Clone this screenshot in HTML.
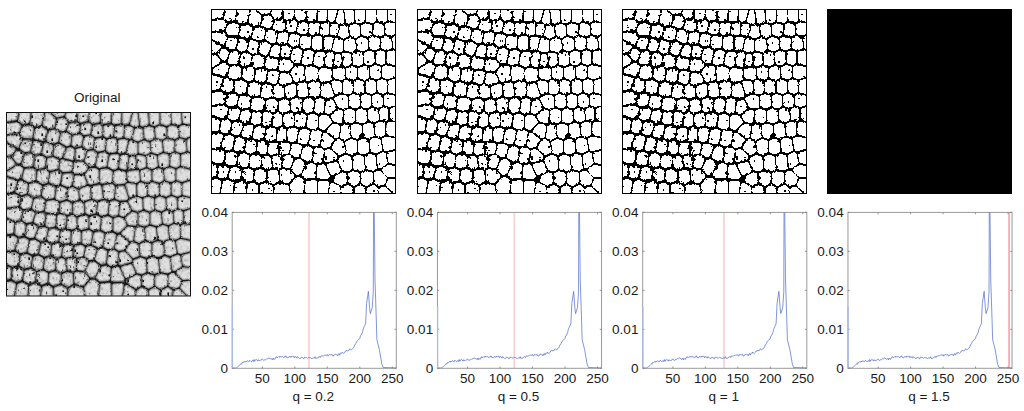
<!DOCTYPE html>
<html><head><meta charset="utf-8"><style>
html,body{margin:0;padding:0;background:#fff;width:1024px;height:411px;overflow:hidden}
svg{display:block}
text{font-family:"Liberation Sans",sans-serif;font-size:13.5px;fill:#1a1a1a}
</style></head><body>
<svg width="1024" height="411" viewBox="0 0 1024 411">
<defs>
<clipPath id="cax"><rect x="232.2" y="212.4" width="164.10" height="155.90"/></clipPath>
<filter id="rough" x="-5%" y="-5%" width="110%" height="110%"><feTurbulence type="fractalNoise" baseFrequency="0.45" numOctaves="2" seed="4" result="n"/><feDisplacementMap in="SourceGraphic" in2="n" scale="3" xChannelSelector="R" yChannelSelector="G"/></filter>
<filter id="soft" x="-5%" y="-5%" width="110%" height="110%"><feGaussianBlur stdDeviation="0.22"/></filter>
<filter id="osoft" x="-3%" y="-3%" width="106%" height="106%" color-interpolation-filters="sRGB"><feTurbulence type="fractalNoise" baseFrequency="0.35" numOctaves="2" seed="4" result="n"/><feDisplacementMap in="SourceGraphic" in2="n" scale="2.2" xChannelSelector="R" yChannelSelector="G" result="d"/><feTurbulence type="fractalNoise" baseFrequency="0.3" numOctaves="3" seed="9" result="t2"/><feColorMatrix in="t2" type="matrix" values="1.0 0 0 0 0.5  1.0 0 0 0 0.5  1.0 0 0 0 0.5  0 0 0 0 1" result="sh"/><feComposite in="d" in2="sh" operator="arithmetic" k1="1" k2="0" k3="0" k4="0" result="m"/><feGaussianBlur in="m" stdDeviation="0.6" result="b"/><feComponentTransfer in="b"><feFuncR type="table" tableValues="0.099 0.166 0.168 0.171 0.174 0.179 0.185 0.191 0.197 0.202 0.207 0.212 0.216 0.220 0.224 0.228 0.231 0.235 0.239 0.243 0.247 0.252 0.257 0.262 0.267 0.271 0.276 0.281 0.286 0.290 0.293 0.296 0.299 0.303 0.306 0.310 0.314 0.317 0.321 0.325 0.328 0.332 0.336 0.339 0.344 0.349 0.353 0.356 0.360 0.364 0.368 0.372 0.377 0.381 0.385 0.389 0.392 0.396 0.399 0.403 0.406 0.409 0.412 0.416 0.420 0.424 0.428 0.432 0.435 0.439 0.443 0.446 0.450 0.454 0.458 0.462 0.466 0.471 0.476 0.481 0.486 0.490 0.494 0.498 0.504 0.510 0.516 0.521 0.526 0.531 0.537 0.542 0.548 0.553 0.557 0.562 0.567 0.571 0.576 0.580 0.585 0.591 0.596 0.602 0.606 0.612 0.618 0.623 0.628 0.632 0.637 0.641 0.664 0.683 0.684 0.686 0.687 0.689 0.692 0.694 0.696 0.698 0.701 0.703 0.705 0.706 0.708 0.709 0.710 0.712 0.713 0.715 0.716 0.718 0.719 0.721 0.722 0.724 0.725 0.727 0.729 0.730 0.732 0.733 0.735 0.736 0.737 0.738 0.741 0.744 0.745 0.746 0.747 0.748 0.750 0.752 0.753 0.754 0.755 0.756 0.757 0.758 0.759 0.760 0.761 0.762 0.763 0.764 0.765 0.766 0.767 0.768 0.769 0.770 0.771 0.772 0.774 0.775 0.776 0.777 0.778 0.779 0.780 0.780 0.781 0.782 0.783 0.784 0.785 0.786 0.787 0.788 0.789 0.790 0.791 0.792 0.793 0.794 0.795 0.796 0.797 0.799 0.799 0.801 0.802 0.804 0.805 0.807 0.808 0.809 0.810 0.811 0.813 0.814 0.815 0.816 0.817 0.819 0.820 0.822 0.823 0.825 0.826 0.827 0.828 0.829 0.830 0.831 0.832 0.833 0.835 0.836 0.836 0.837 0.838 0.839 0.840 0.841 0.842 0.843 0.844 0.846 0.847 0.848 0.850 0.851 0.852 0.854 0.855 0.857 0.859 0.860 0.861 0.862 0.863 0.878"/><feFuncG type="table" tableValues="0.099 0.166 0.168 0.171 0.174 0.179 0.185 0.191 0.197 0.202 0.207 0.212 0.216 0.220 0.224 0.228 0.231 0.235 0.239 0.243 0.247 0.252 0.257 0.262 0.267 0.271 0.276 0.281 0.286 0.290 0.293 0.296 0.299 0.303 0.306 0.310 0.314 0.317 0.321 0.325 0.328 0.332 0.336 0.339 0.344 0.349 0.353 0.356 0.360 0.364 0.368 0.372 0.377 0.381 0.385 0.389 0.392 0.396 0.399 0.403 0.406 0.409 0.412 0.416 0.420 0.424 0.428 0.432 0.435 0.439 0.443 0.446 0.450 0.454 0.458 0.462 0.466 0.471 0.476 0.481 0.486 0.490 0.494 0.498 0.504 0.510 0.516 0.521 0.526 0.531 0.537 0.542 0.548 0.553 0.557 0.562 0.567 0.571 0.576 0.580 0.585 0.591 0.596 0.602 0.606 0.612 0.618 0.623 0.628 0.632 0.637 0.641 0.664 0.683 0.684 0.686 0.687 0.689 0.692 0.694 0.696 0.698 0.701 0.703 0.705 0.706 0.708 0.709 0.710 0.712 0.713 0.715 0.716 0.718 0.719 0.721 0.722 0.724 0.725 0.727 0.729 0.730 0.732 0.733 0.735 0.736 0.737 0.738 0.741 0.744 0.745 0.746 0.747 0.748 0.750 0.752 0.753 0.754 0.755 0.756 0.757 0.758 0.759 0.760 0.761 0.762 0.763 0.764 0.765 0.766 0.767 0.768 0.769 0.770 0.771 0.772 0.774 0.775 0.776 0.777 0.778 0.779 0.780 0.780 0.781 0.782 0.783 0.784 0.785 0.786 0.787 0.788 0.789 0.790 0.791 0.792 0.793 0.794 0.795 0.796 0.797 0.799 0.799 0.801 0.802 0.804 0.805 0.807 0.808 0.809 0.810 0.811 0.813 0.814 0.815 0.816 0.817 0.819 0.820 0.822 0.823 0.825 0.826 0.827 0.828 0.829 0.830 0.831 0.832 0.833 0.835 0.836 0.836 0.837 0.838 0.839 0.840 0.841 0.842 0.843 0.844 0.846 0.847 0.848 0.850 0.851 0.852 0.854 0.855 0.857 0.859 0.860 0.861 0.862 0.863 0.878"/><feFuncB type="table" tableValues="0.099 0.166 0.168 0.171 0.174 0.179 0.185 0.191 0.197 0.202 0.207 0.212 0.216 0.220 0.224 0.228 0.231 0.235 0.239 0.243 0.247 0.252 0.257 0.262 0.267 0.271 0.276 0.281 0.286 0.290 0.293 0.296 0.299 0.303 0.306 0.310 0.314 0.317 0.321 0.325 0.328 0.332 0.336 0.339 0.344 0.349 0.353 0.356 0.360 0.364 0.368 0.372 0.377 0.381 0.385 0.389 0.392 0.396 0.399 0.403 0.406 0.409 0.412 0.416 0.420 0.424 0.428 0.432 0.435 0.439 0.443 0.446 0.450 0.454 0.458 0.462 0.466 0.471 0.476 0.481 0.486 0.490 0.494 0.498 0.504 0.510 0.516 0.521 0.526 0.531 0.537 0.542 0.548 0.553 0.557 0.562 0.567 0.571 0.576 0.580 0.585 0.591 0.596 0.602 0.606 0.612 0.618 0.623 0.628 0.632 0.637 0.641 0.664 0.683 0.684 0.686 0.687 0.689 0.692 0.694 0.696 0.698 0.701 0.703 0.705 0.706 0.708 0.709 0.710 0.712 0.713 0.715 0.716 0.718 0.719 0.721 0.722 0.724 0.725 0.727 0.729 0.730 0.732 0.733 0.735 0.736 0.737 0.738 0.741 0.744 0.745 0.746 0.747 0.748 0.750 0.752 0.753 0.754 0.755 0.756 0.757 0.758 0.759 0.760 0.761 0.762 0.763 0.764 0.765 0.766 0.767 0.768 0.769 0.770 0.771 0.772 0.774 0.775 0.776 0.777 0.778 0.779 0.780 0.780 0.781 0.782 0.783 0.784 0.785 0.786 0.787 0.788 0.789 0.790 0.791 0.792 0.793 0.794 0.795 0.796 0.797 0.799 0.799 0.801 0.802 0.804 0.805 0.807 0.808 0.809 0.810 0.811 0.813 0.814 0.815 0.816 0.817 0.819 0.820 0.822 0.823 0.825 0.826 0.827 0.828 0.829 0.830 0.831 0.832 0.833 0.835 0.836 0.836 0.837 0.838 0.839 0.840 0.841 0.842 0.843 0.844 0.846 0.847 0.848 0.850 0.851 0.852 0.854 0.855 0.857 0.859 0.860 0.861 0.862 0.863 0.878"/></feComponentTransfer></filter>
<g id="bincells"><path d="M8.6,5.3 9.6,-2 -2.7,-2 -2.7,7ZM15,6.9 17.2,8.9 20.6,8.4 22.1,-1.8 16.2,-1.8ZM29,10.9 33.1,10 35.7,-1.7 28.6,-1.7 26.9,9.7ZM42.4,13.6 45.9,13 47,7.5 41.3,3.1 39.5,11.7ZM64.3,6.6 68,6 68.4,-2.1 64.7,-2.1 61.9,3.7ZM74.3,7.1 74.7,7.4 79.5,6.3 79.9,-2.1 74.8,-2.1ZM85.8,7.3 87.2,8.3 91.2,7.6 91.7,-2.1 86.2,-2.1ZM97.4,8.6 102.2,8 102.7,-2.1 98,-2.1ZM108.4,9.1 109.1,9.5 112.6,8.8 112.6,-2 109,-2ZM118.8,9.2 119,9.3 120.6,9.1 124,-2.2 118.8,-2.2ZM128.8,12 130.2,11.7 129.1,2.9 126.7,10.9ZM136.4,11.2 136.7,11.3 139.9,10.2 139.3,-2.1 134.7,-2.1ZM146,10.1 148.1,10.8 150.7,9.8 150.7,-2.1 145.4,-2.1ZM156.8,9.6 160.4,10.6 162.1,9.8 161.5,-2.1 156.8,-2.1ZM168.1,9.3 171.8,10.2 172.9,9.6 172.2,-2.2 167.6,-2.2ZM178.9,8.7 187.4,9.8 187.4,-2.2 178.3,-2.2ZM10.5,18.1 12.2,14.5 10.4,12.9 -2.7,14.8 -2.7,19.4ZM54.9,16.1 57.4,15.5 59.2,11.3 56.9,8.5 53.2,9.2 52.2,14.5ZM63.7,17.3 66.4,19 70.5,18.1 70.7,13.5 70.2,13.2 65.1,13.9ZM78.3,20 81.8,19.5 82.9,14.2 81.8,13.4 77,14.5 76.8,19.1ZM88,20.9 89.7,22 93.6,21.4 93.6,14.9 93.5,14.9 89.1,15.6ZM99.8,22.2 100.7,22.7 104.5,21.9 105.1,15.7 104.4,15.2 99.8,15.9ZM111.7,23.3 114.7,22.7 115.1,15.9 111.3,16.6 110.7,22.8ZM120.9,23.2 122.9,24 124.8,17.6 122.4,16.6 121.3,16.7ZM176,22.5 179.5,23.4 187.4,19.4 187.4,17 176.6,15.6 175.4,16.3ZM0.4,26.5 10.6,31.8 12.9,27.2 11.3,25.4ZM18.3,22.9 23.9,23 24.8,17.5 22.7,16.2 18.4,16.8 16.5,20.8ZM30.2,24.4 36.6,25.8 38,19.5 35.3,17.8 31.2,18.7ZM48,20.4 44.3,21 43,26.7 47.6,28.2 49.6,27.5 50.8,22ZM56,28.5 60.7,31.1 61.8,30.8 62.4,24.8 59.2,22.8 57.1,23.3ZM68.1,31.6 69.2,32.1 72.9,31.4 74,25.7 72.9,25 68.7,25.8ZM131.8,26.2 134.5,25.1 133.8,18.4 133.4,18.3 131,18.8 129.1,25.1ZM143.5,25.5 146,24.2 145.4,17.7 143.1,17 140,18.1 140.7,24.7ZM152.1,23.5 155.8,24.4 157.6,23.4 157.6,17.4 153.9,16.3 151.5,17.3ZM163.7,22.9 168.3,24.2 170,23.2 169.4,17.1 165.6,16.1 163.7,17ZM3.4,40.6 6.2,37.5 -2.7,32.8 -2.7,40.6ZM16.5,35.1 19.3,37 21.6,36.7 23,30.6 18.7,30.5ZM29.6,39.2 32.4,38.7 33.6,32.9 29.4,31.9 27.9,38.2ZM38.7,40 41.2,41.3 43.6,40.7 44.3,34.9 40.1,33.5ZM50,41.5 53.6,43 56.2,36.8 52.2,34.6 50.7,35.1ZM79.1,32.7 81.6,34.3 84.2,33.9 85.5,27.7 83.8,26.6 80.2,27.1ZM92.3,36.4 96.2,35.8 96.9,28.9 96.1,28.4 91.6,29.1 90.4,35.3ZM102.4,37 103.9,37.8 108.1,37.4 108.1,29.5 106.9,28.9 103.1,29.7ZM114.3,38.2 117.1,38 119.1,30.2 117.3,29.6 114.3,30.1ZM123.2,39.4 123.7,39.6 128.7,39.6 128.7,32.6 125.2,31.2ZM134.9,32.5 134.9,38.9 139.5,39.7 141.5,38.7 140.9,32.2 138,31.3ZM147,31.6 147.6,38.1 151,39.1 154,37.8 153.4,31.1 149.7,30.2ZM159.4,30.3 160.1,37.3 162.8,38.1 165.7,37.1 165.7,30.6 161.1,29.4ZM171.7,30.1 171.7,37.1 174.3,38 177.7,37 177,30 173.6,29.1ZM183,29.3 183.8,36.8 187.4,38.1 187.4,27.1ZM12.3,40.9 9.1,44.5 12.4,48.4 14.6,42.5ZM18.4,51.3 19,51.8 24.2,51.5 25.4,45.3 23.6,44.3 20.8,44.6ZM65.6,45 65.6,38.5 64.4,38 62.5,38.4 60.3,43.7ZM72,45 75.5,45.2 77.2,39.8 74.9,38.5 72,39ZM81.3,48.1 84.2,51.1 86.4,50.9 88.1,42.3 86.2,41.3 83.3,41.7ZM93.5,52.8 98,52 99.7,43.8 98.5,43.1 94.3,43.7 92.5,52.3ZM107.4,54.5 109.4,53.8 110.4,44.7 105.8,45.2 104.2,53ZM143.5,53 145.8,53.8 149,52.6 148.3,45.7 145.1,44.8 143.2,45.7ZM157.2,53.1 160.3,51.9 159.9,44.6 157.5,43.9 154.4,45.2 155.1,52.4ZM169.5,52.7 171.2,51.9 171.2,44.3 168.7,43.4 166,44.4 166.4,51.7ZM187.4,54.2 187.4,45.7 180.9,43.4 177.2,44.5 177.2,51.6ZM-2.7,56.4 6,51.4 3.4,48.3 -2.7,48.3ZM3,61.2 11.9,64.1 12.6,63.9 14.2,57.4 13.2,56.5 11.5,56.3ZM30.5,53.2 31.4,53.8 36.1,52.9 37.1,47.5 34.5,46.1 31.8,46.6ZM43.5,48.5 42.4,54.3 44.3,55.5 49.7,54.3 50.2,49.6 46.3,47.9ZM56,55.8 57.3,56.8 63,56.6 63.8,52 56.6,50.2ZM69.3,58.6 76.4,58.6 78.9,55.4 76.3,52.7 70.2,52.3 69.2,58.5ZM115.6,53.9 118.3,54.6 119.6,45.6 119,45.4 116.5,45.6ZM124.6,54.5 127.6,54.1 126.7,47 125.7,47ZM132.8,45.8 133.8,54.2 137.4,53 137,46.5ZM19,65.1 22.7,67 26.7,65.9 27.2,59.9 25.9,59.1 20.4,59.5ZM37,68.9 39.2,68.2 40.1,61.6 38.1,60.3 33.6,61.1 33.1,66.8ZM45.6,68.5 50.1,70 51.3,69.6 52.6,62.3 51.7,61.6 46.5,62.7ZM57.7,70.3 61.4,71.6 63.2,71.1 64.6,64 58.8,64.2ZM69.5,71.7 72.3,72.8 77.6,70.6 75.8,65.9 70.7,65.9ZM81.6,62.9 84.1,69.3 84.6,69.4 90,68.2 89.9,59.4 88.3,58.6 84.6,58.9ZM96.3,68.5 103.3,67.4 103.9,60.9 100.3,59.2 96.2,60ZM109.5,68.8 110.4,69.4 117.1,68.7 117.9,68 117.4,62 112.4,60.7 110.1,61.4ZM123.6,61.7 124,66.7 130,67.7 131,67.1 130.4,60.8ZM136.6,60.7 137.1,66.4 141.2,67.4 142.7,66.7 142.7,60.2 140.5,59.4ZM148.8,66.4 152.9,67.5 155,66.6 154.4,59.7 152.3,58.9 148.8,60.2ZM161,66 164.7,67 166.7,66.2 166.7,59.1 163.6,58.2 160.5,59.4ZM172.7,65.9 175.7,66.8 187.4,63.4 187.4,61.4 174.5,58.1 172.7,58.9ZM-2.7,67.2 -2.7,78.2 5.7,76.7 7.8,70.7ZM12.1,78.3 15.2,80 18.2,79.1 18.9,73.4 15,71.4 14.5,71.6ZM24.7,79.9 28,81.7 32.2,80.7 33.2,75.3 29.3,73.2 25.3,74.3ZM40.8,84 45.6,83.4 46.6,76.7 42.2,75.3 39.6,76.2 38.5,82.2ZM51.9,84.8 54,86 57.5,84.8 58,78.3 54,76.9 53,77.2ZM100.3,83.9 103.1,84.6 105.2,84.1 106.1,75.2 105.4,74.7 98.9,75.6ZM111.5,84.6 114.3,85.7 119.2,85.2 116.3,76.3 112.3,76.7ZM122,73.6 124.8,82 127.5,81.1 127.5,74.4 122.1,73.6ZM133.6,81.1 136.3,81.9 138.4,81 138.4,74.1 134.7,73.1 133.6,73.7ZM144.6,80.7 148.2,81.7 150.1,80.9 150.1,74.1 146,72.9 144.6,73.6ZM156.2,80.7 159.5,81.6 161.9,80.7 161.9,73.5 158.5,72.6 156.2,73.7ZM168,73.2 168,80.5 171.3,81.5 172.7,81 172.7,73.3 169.9,72.4ZM178.7,73.2 178.7,80.6 187.4,82.5 187.4,70.7ZM10.3,91.2 11.3,86.4 7.7,84.5 -2.7,86.3 -2.7,92.8ZM66.7,86.2 69.9,85.2 69.4,79.5 65.9,78.1 64.4,78.6 63.8,85.1ZM76.3,85.2 77.9,85.9 81.8,84.4 81.3,76.8 75.7,79.2ZM88.2,84.1 91.3,85.2 94,84.3 92.5,75.5 87.6,76.6ZM16.7,92.9 17.9,93.8 22.5,93.3 23.8,87.8 20.8,86.3 17.8,87.2ZM30.5,96.3 35.3,95.9 36.3,89.8 34.2,88.2 30.2,89.1 28.7,95ZM41.6,97.5 49.8,98 50.2,92.4 47.7,90.8 42.6,91.5ZM56.2,97.9 61.1,99.5 62.9,99.1 63.3,92.8 60.5,91.7 56.6,93ZM71,100.4 75.4,99 74.8,92.7 73.1,92 69.6,93.1 69.3,99.6ZM81.8,99.1 83.2,99.7 87.3,98.8 88,91.9 85.2,91 81.2,92.4ZM93.5,99.5 95.6,100.6 99,99.8 99.8,91.6 97.6,91 94.3,92.1ZM105.2,100.5 107,101.3 109.4,100.6 110.5,92.1 108,91.2 106.1,91.7ZM115.7,101 117.4,101.6 121.9,97.6 119.3,92.6 116.7,92.9ZM124.9,89.5 127.9,95.3 131.6,96.5 133.9,95.5 133.5,88.6 130.6,87.7ZM140,95.2 143.6,96.3 145.4,95.5 145.4,88.3 141.8,87.3 139.7,88.2ZM151.6,95.2 154.9,96.1 157.1,95 156.7,88.2 153.4,87.2 151.6,88ZM163.1,94.5 166.3,95.3 168.4,94.3 168.4,88 165.1,86.9 162.8,87.9ZM174.5,94 177.2,94.8 187.4,91.7 187.4,89.6 176,87.1 174.5,87.8ZM9.3,105.7 12.3,105 13.4,99.6 12.2,98.6 -2.7,100.5 -2.7,100.6ZM20.9,107.8 24.1,107.1 25.7,101.9 24.2,100.7 19.7,101.3 18.8,106.4ZM30.5,108.7 33.3,110.6 35.7,110.3 36.4,103.5 32,103.9ZM43.1,112.2 46.6,111.8 47.3,105.4 42.7,105.1 42,111.6ZM53,113 54.5,113.9 56.6,113.4 57.5,106.2 53.8,105ZM123.2,110 128.7,110.6 128.7,103.2 126.4,102.5 121.8,106.7ZM134.9,110.4 138,111.2 140.7,110.1 140.7,102.9 137.3,101.9 134.9,102.9ZM146.8,102.6 146.8,109.9 150,110.8 153,109.5 152.3,102.8 148.7,101.8ZM159.1,109 162,109.9 164.6,108.7 163.9,101.9 160.6,101.1 158.4,102.2ZM170.6,108.1 173.9,108.9 174.2,108.8 174.2,101.1 171.7,100.4 169.9,101.2ZM180.2,101.1 180.2,108.1 187.4,109 187.4,98.9ZM4.6,118.7 5.4,112.2 -2.7,108.8 -2.7,119.3ZM11.1,120.1 12.9,121 15.7,120.6 16.7,113.9 14.5,112.6 11.9,113.1ZM22.1,121.8 24,122.8 25.9,122.7 28.6,116.2 26.1,114.5 23.1,115.2ZM65.2,114.4 67.6,113.8 67.6,107 65.7,106.2 63.9,106.6 62.9,113.8ZM75.4,114.6 79.6,113.7 79.6,106.3 78.5,105.8 74,107.2 74,114ZM85.9,114.3 87.8,115.2 91.1,114.7 91.9,107 89.8,105.9 85.9,106.8ZM97.4,115.8 99.5,116.8 103.6,116.2 103.6,108 101.5,107 98.1,107.8ZM109.8,116.9 111.4,117.6 112.2,117.5 117.4,112.5 115.8,108.8 112.2,107.6 109.8,108.3ZM166.1,124 168.7,124.6 171.2,123.5 171.2,115.5 168.1,114.8 165.4,116ZM177.2,123.1 187.4,125.2 187.4,116.2 177.7,115 177.2,115.2ZM32.2,124.4 35.1,125.8 37.2,125.4 38.8,118.3 37.9,117.8 34.8,118.1ZM43.6,126.5 45.9,127.5 49.8,126.6 50.6,120.2 48.9,119.3 45,119.7ZM56.1,127.7 57.4,128.5 61.5,128.2 61.9,121.3 59.4,120.6 57,121.1ZM67.8,129.1 71.9,128.4 71.9,121.2 70.6,120.7 68.3,121.3ZM78.2,129 79.9,129.8 82.1,129.3 83.7,121.5 82.3,120.8 78.2,121.6ZM88.4,130.5 91.7,132.1 93.8,131.7 95.5,123.1 93.5,122.1 89.9,122.7ZM100,132.8 102.1,133.9 105.3,133.3 107.3,124 106.2,123.5 101.7,124.2ZM118.1,121 124.4,126.1 124.6,126 125.7,117.5 122.2,117.1ZM132,117.2 130.8,126.8 132.7,127.4 136.1,126 135.3,118.1ZM142.2,125.5 145.6,126.4 148.1,125.5 147.4,117.6 143.9,116.6 141.5,117.6ZM154.2,125.1 157.1,125.8 160.1,124.6 159.3,116.6 156.4,115.7 153.5,117ZM6.2,134.9 8.5,127.4 6.9,126.6 -2.7,127.4 -2.7,135.8ZM12.5,136.6 14.6,137.8 18.1,137.2 19.7,129.3 17.9,128.4 14.9,128.8ZM24.5,138.4 26.9,139.6 29.6,139 31,132.1 27.6,130.5 26.1,130.7ZM37.4,133.3 36,140.1 38.5,141.3 41.4,140.5 42.1,134 39.6,132.9ZM50.4,142.3 52.4,141.7 53.2,134.5 52.1,133.9 48.5,134.7 47.8,141.1ZM59.7,142.5 63.8,141.5 63.8,135.6 59.5,135.9 58.8,142.1ZM70.2,142 70.8,142.4 74.8,141.6 75.9,136 74.6,135.4 70.2,136.2ZM111.5,134.6 113.3,135.6 116.8,134.9 119.5,130.8 113.3,125.9ZM122.5,137.9 127.6,143 130.5,141.7 129.9,134.2 127.2,133.3 125.4,133.5ZM136,133.8 136.7,141.3 140.1,142.3 142.7,141.3 142.7,133.2 139.6,132.4ZM148.8,132.9 148.8,141 152.1,141.9 155.2,140.6 154.5,132.7 151.5,131.9ZM160.6,132.1 161.3,140.1 163.8,140.9 167.9,139.3 166.4,131.5 163.6,130.8ZM172.4,130.6 173.9,138.6 174.5,138.8 187.4,135.5 187.4,132.3 174.6,129.7ZM6.4,151.2 9.5,150.4 10.4,144.1 7.9,142.7 -2.7,143.7 -2.7,147.5ZM16,151.7 18.5,153.3 22,152.4 23,146.1 20.3,144.8 16.8,145.4ZM83.8,145 85.5,144.7 87.5,138.1 84.4,136.6 82.2,137 81,143ZM91.6,146.6 95.8,149.3 97.4,149 98.2,140.3 96,139.2 93.7,139.6ZM103.6,150 105.6,150.8 108.6,150.2 109.5,141.8 107.5,140.8 104.4,141.2ZM114.9,150 123.1,147.8 117.6,142.2 115.7,142.6ZM177.9,145.1 178.9,151.2 187.4,152.2 187.4,142.7ZM31.2,154.9 34.2,154.2 34.8,147.8 32,146.5 29.4,147.1 28.5,153.4ZM42.9,156.1 46.1,155.2 46.7,148.8 44.1,147.7 41.2,148.5 40.6,155ZM55.3,157.1 57.4,156.3 56.6,149.3 55.3,148.8 53.1,149.4 52.5,155.8ZM63.8,155.7 66.7,156.2 67,156.1 67,148.7 66.5,148.4 63,149.3ZM73.4,149.3 73.4,155.3 76.5,155.6 79.1,150.2 76.8,148.6ZM85.2,152.5 82.1,158.9 85.4,162.3 86.8,162.3 91,154.7 87.2,152.2ZM120.7,162.9 126.3,160 123.8,154.8 117.7,156.5ZM128.9,150.8 132.6,158.3 135.2,159 137.7,158 137.3,149.2 134,148.1 129.2,150.2ZM143.8,157.7 148.3,158.7 150.3,157.9 149.4,148.8 146,147.9 143.4,148.9ZM156.4,157.3 161.3,158.2 162.5,157.6 161.2,147.7 158.6,146.9 155.5,148.3ZM168.4,155.8 173,152.7 171.7,145.5 171.4,145.4 167.2,147.1ZM1.9,164.2 2.6,157.9 -2.7,155.8 -2.7,165.1ZM8.4,165.1 10.9,166.2 13.3,165.5 14.3,159.5 11.9,158 9.1,158.7ZM19.8,166.5 22.9,168.1 26,167.2 27.1,161.2 24.5,159.8 20.8,160.7ZM33.5,162.2 32.4,168 35.6,169.5 38.7,168.5 39.2,162.6 36.9,161.5ZM45.1,169.1 47.4,170.3 51.7,168.9 51.9,163.6 48.8,162.3 45.6,163.2ZM58.1,169.5 61.5,171.4 64.4,169.8 64.1,163.4 61.2,162.9 58.3,163.9ZM70.8,169.1 76.1,170.5 79.9,166.4 76.8,163.2 70.8,162.4 70.5,162.6ZM92.6,165 94.4,166.3 101.1,165.8 101.9,157.4 99.8,156.5 97.1,156.9ZM107.3,166.6 115.4,166.4 111.2,157.5 108.1,158.1ZM177.4,164.9 187.4,164.1 187.4,159.2 177.1,158 173,160.7ZM6.9,173.3 4.5,172.3 -2.7,173.6 -2.7,185.9 4.4,185.9ZM19.2,175.2 15.8,173.4 13.5,174.1 11,186.1 18.3,186.1ZM31.9,176.3 28.6,174.8 25.7,175.7 24.8,186.2 30.9,186.2ZM43.8,177.1 41.4,175.8 38.3,176.8 37.4,186.4 43.8,186.4ZM58.3,178.3 54.4,176.1 50.3,177.4 50.3,186.4 58.3,186.4ZM74.5,177.9 68.2,176.3 64.7,178.3 64.7,186.5 76.3,186.5ZM82.7,186.1 89,186.1 90.1,172.5 87.6,170.7 85.5,170.7 80.6,176ZM102.4,173.6 96.3,174 95.3,186.3 102.4,186.3ZM108.7,186.3 112.9,186.3 114.7,174.1 108.7,174.2ZM120.7,176 119.2,186.6 125.3,186.6 126.7,179.5ZM123.1,169.3 130.1,173.4 132.3,172 132.3,165.9 130.6,165.4ZM138.5,171.7 142.2,173.4 145.5,171.9 145.5,165.5 141.1,164.5 138.5,165.6ZM151.6,172 154.6,173.7 158.6,171.7 158.6,165.1 153.9,164.2 151.6,165.1ZM164.7,172 167.4,173.7 171.1,172.6 172.7,169.1 167.1,163.9 166.4,163.8 164.7,164.5ZM178.3,172 176.9,175.1 187.4,185.8 187.4,171.2ZM139.2,179.9 135.6,178.2 133,179.9 131.6,186.8 139.2,186.8ZM151.4,180 148.4,178.3 145.3,179.8 145.3,186.8 151.4,186.8ZM157.5,186.8 163.1,186.8 163.8,179.5 161.5,178.1 157.5,180ZM172.4,179.6 169.8,180.4 169.2,187 179.7,187ZM45.4,-2.5 51.3,2.1 56,1.2 57.8,-2.5Z" fill="#fff" stroke="#fff" stroke-width="5.2" stroke-linejoin="round"/></g>
<g id="bin3cells"><path d="M8.5,5.2 9.5,-1.9 -2.7,-1.9 -2.7,6.8ZM15,6.9 17.2,8.8 20.5,8.3 22,-1.7 16.3,-1.7ZM29,10.7 33.1,9.9 35.6,-1.6 28.7,-1.6 27,9.6ZM42.4,13.4 45.8,12.9 46.9,7.5 41.4,3.3 39.5,11.7ZM64.3,6.4 68,5.9 68.4,-2 64.7,-2 62,3.6ZM74.4,7 74.8,7.3 79.4,6.2 79.8,-2 74.9,-2ZM85.9,7.2 87.2,8.2 91.1,7.5 91.6,-2 86.3,-2ZM97.5,8.5 102.1,7.9 102.7,-2 98,-2ZM108.5,9 109.1,9.3 112.5,8.7 112.5,-1.9 109.1,-1.9ZM118.9,9.1 119,9.1 120.5,9 123.9,-2.1 118.9,-2.1ZM128.9,11.9 130.1,11.6 129,3.3 126.7,10.9ZM136.4,11.1 136.7,11.2 139.8,10.1 139.2,-1.9 134.8,-1.9ZM146.1,10 148.1,10.7 150.6,9.7 150.6,-2 145.5,-2ZM156.9,9.5 160.4,10.5 162,9.7 161.4,-2 156.9,-2ZM168.2,9.2 171.8,10.1 172.8,9.5 172.1,-2.1 167.6,-2.1ZM179,8.6 187.3,9.7 187.3,-2.1 178.4,-2.1ZM10.5,18.1 12.1,14.5 10.4,13 -2.7,14.9 -2.7,19.3ZM54.9,15.9 57.4,15.4 59.1,11.4 56.9,8.6 53.3,9.3 52.3,14.4ZM63.8,17.3 66.4,18.9 70.4,18 70.7,13.6 70.2,13.3 65.2,14ZM78.3,19.9 81.8,19.4 82.8,14.2 81.8,13.5 77.1,14.6 76.9,19ZM88.1,20.8 89.7,21.9 93.5,21.3 93.5,15 89.1,15.7ZM99.9,22.2 100.8,22.6 104.4,21.9 105,15.7 104.4,15.4 99.9,16ZM111.7,23.2 114.6,22.6 115.1,16 111.4,16.7 110.8,22.7ZM120.9,23.2 122.9,23.9 124.7,17.7 122.4,16.7 121.4,16.8ZM176.1,22.4 179.5,23.2 187.3,19.4 187.3,17.1 176.7,15.7 175.5,16.4ZM0.6,26.5 10.6,31.7 12.8,27.2 11.3,25.5ZM18.3,22.8 23.8,22.9 24.8,17.5 22.7,16.3 18.4,16.9 16.6,20.8ZM30.3,24.3 36.5,25.7 38,19.6 35.2,17.9 31.3,18.7ZM48,20.5 44.4,21.1 43.1,26.6 47.6,28.1 49.6,27.4 50.7,22.1ZM56.1,28.4 60.7,30.9 61.7,30.7 62.3,24.8 59.2,22.9 57.2,23.4ZM68.2,31.5 69.2,32 72.8,31.3 73.9,25.8 72.9,25.1 68.8,25.9ZM131.8,26.1 134.5,25 133.8,18.5 133.4,18.4 131,18.9 129.2,25ZM143.5,25.4 145.9,24.1 145.3,17.8 143.1,17.1 140.1,18.1 140.8,24.6ZM152.1,23.4 155.8,24.3 157.6,23.3 157.6,17.5 154,16.4 151.6,17.4ZM163.8,22.8 168.3,24 169.9,23.2 169.3,17.1 165.6,16.2 163.8,17.1ZM3.4,40.5 6.1,37.5 -2.7,33 -2.7,40.5ZM16.6,35.1 19.3,36.9 21.5,36.6 22.9,30.7 18.8,30.6ZM29.7,39.1 32.3,38.7 33.5,33 29.4,32 28,38.2ZM38.8,39.9 41.2,41.2 43.6,40.7 44.2,35 40.1,33.6ZM50.1,41.4 53.5,42.9 56.1,36.8 52.2,34.7 50.8,35.2ZM79.2,32.7 81.6,34.2 84.2,33.8 85.4,27.7 83.8,26.7 80.3,27.2ZM92.3,36.3 96.2,35.7 96.8,28.9 96.1,28.5 91.7,29.2 90.5,35.2ZM102.5,36.9 103.9,37.7 108,37.3 108,29.6 106.9,29.1 103.2,29.8ZM114.4,38.1 117,37.9 119,30.3 117.3,29.7 114.4,30.2ZM123.3,39.3 123.7,39.5 128.6,39.5 128.6,32.7 125.3,31.3ZM134.9,32.6 134.9,38.8 139.5,39.6 141.4,38.6 140.9,32.3 138,31.4ZM147.1,31.6 147.7,38 151,38.9 153.9,37.7 153.3,31.2 149.7,30.3ZM159.5,30.4 160.2,37.2 162.8,37.9 165.6,37 165.6,30.7 161.1,29.5ZM171.8,30.2 171.8,37 174.3,37.8 177.6,36.9 177,30.1 173.6,29.2ZM183.1,29.3 183.9,36.7 187.3,37.9 187.3,27.3ZM12.3,41 9.2,44.5 12.4,48.2 14.5,42.5ZM18.5,51.2 19.1,51.7 24.1,51.4 25.3,45.4 23.5,44.4 20.9,44.7ZM65.5,44.9 65.5,38.5 64.4,38.1 62.6,38.5 60.3,43.6ZM72,44.9 75.4,45.1 77.1,39.9 74.9,38.6 72,39.1ZM81.4,48 84.2,51 86.3,50.8 88,42.4 86.2,41.4 83.4,41.8ZM93.5,52.6 98,51.9 99.6,43.9 98.4,43.2 94.3,43.8 92.6,52.2ZM107.4,54.4 109.3,53.7 110.3,44.8 105.8,45.3 104.3,52.9ZM143.6,52.9 145.8,53.7 148.9,52.5 148.3,45.8 145.1,44.9 143.2,45.8ZM157.2,53 160.3,51.8 159.9,44.7 157.5,44 154.5,45.3 155.2,52.3ZM169.5,52.5 171.1,51.8 171.1,44.4 168.7,43.5 166.1,44.4 166.5,51.6ZM187.3,54 187.3,45.7 180.9,43.5 177.3,44.6 177.3,51.5ZM-2.7,56.3 5.9,51.4 3.3,48.4 -2.7,48.4ZM3.2,61.2 11.9,64 12.5,63.8 14.1,57.4 13.2,56.6 11.5,56.4ZM30.5,53.1 31.4,53.7 36,52.8 37.1,47.5 34.5,46.2 31.9,46.7ZM43.6,48.6 42.5,54.2 44.3,55.4 49.6,54.2 50.2,49.6 46.3,48ZM56,55.7 57.3,56.7 63,56.5 63.7,52.1 56.7,50.3ZM69.3,58.5 76.3,58.5 78.8,55.4 76.2,52.8 70.3,52.4 69.3,58.4ZM115.7,53.8 118.2,54.4 119.5,45.7 119,45.5 116.6,45.7ZM124.7,54.4 127.5,54 126.6,47.1 125.8,47.1ZM132.9,45.9 133.9,54 137.3,52.9 137,46.6ZM19.1,65 22.7,66.9 26.6,65.9 27.1,60 25.9,59.2 20.5,59.6ZM37.1,68.8 39.1,68.1 40,61.6 38.1,60.4 33.7,61.2 33.2,66.7ZM45.7,68.4 50.1,69.9 51.2,69.5 52.5,62.4 51.7,61.7 46.5,62.8ZM57.8,70.2 61.4,71.5 63.1,71 64.5,64.1 58.8,64.3ZM69.6,71.7 72.3,72.7 77.6,70.5 75.8,66 70.8,66ZM81.6,62.9 84.2,69.2 84.6,69.3 89.9,68.1 89.8,59.5 88.3,58.8 84.7,59ZM96.4,68.3 103.3,67.3 103.8,61 100.3,59.3 96.2,60ZM109.6,68.7 110.4,69.3 117.1,68.6 117.8,68 117.3,62 112.4,60.8 110.2,61.5ZM123.7,61.8 124.1,66.6 129.9,67.6 130.9,67.1 130.4,60.9ZM136.7,60.8 137.2,66.3 141.1,67.3 142.6,66.6 142.6,60.3 140.5,59.5ZM148.9,66.3 152.9,67.4 154.9,66.5 154.3,59.7 152.3,59 148.9,60.3ZM161.1,65.9 164.7,66.9 166.6,66.1 166.6,59.2 163.6,58.3 160.5,59.5ZM172.8,65.9 175.7,66.7 187.3,63.3 187.3,61.4 174.5,58.2 172.8,59ZM-2.7,67.3 -2.7,78.1 5.6,76.6 7.7,70.7ZM12.2,78.3 15.2,79.9 18.1,79 18.8,73.5 15,71.6 14.5,71.7ZM24.7,79.9 28,81.5 32.1,80.6 33.1,75.3 29.3,73.3 25.4,74.4ZM40.8,83.9 45.5,83.3 46.5,76.8 42.2,75.4 39.7,76.3 38.5,82.2ZM52,84.7 54,85.9 57.4,84.7 57.9,78.4 54,77 53.1,77.3ZM100.4,83.8 103.1,84.5 105.2,84 106.1,75.3 105.4,74.8 99,75.7ZM111.5,84.6 114.3,85.6 119.1,85.1 116.2,76.4 112.3,76.9ZM122.1,73.7 124.8,81.9 127.4,81.1 127.4,74.5ZM133.7,81 136.3,81.8 138.3,80.9 138.3,74.2 134.7,73.3 133.7,73.8ZM144.6,80.6 148.2,81.6 150.1,80.8 150.1,74.2 146,73 144.6,73.7ZM156.3,80.6 159.5,81.5 161.8,80.6 161.8,73.6 158.5,72.8 156.3,73.8ZM168,73.3 168,80.4 171.3,81.4 172.6,80.9 172.6,73.3 169.9,72.5ZM178.8,73.3 178.8,80.5 187.3,82.3 187.3,70.8ZM10.3,91.2 11.2,86.4 7.6,84.6 -2.7,86.4 -2.7,92.7ZM66.7,86.1 69.9,85.2 69.3,79.6 65.9,78.2 64.4,78.7 63.9,85.1ZM76.4,85.1 77.9,85.7 81.8,84.3 81.2,77 75.8,79.3ZM88.2,84 91.3,85.1 94,84.2 92.5,75.6 87.6,76.7ZM16.8,92.8 17.9,93.7 22.4,93.2 23.7,87.9 20.8,86.4 17.8,87.3ZM30.5,96.2 35.2,95.8 36.3,89.9 34.1,88.3 30.3,89.2 28.8,95ZM41.7,97.4 49.7,97.9 50.2,92.4 47.6,90.9 42.7,91.6ZM56.3,97.9 61.1,99.4 62.9,99 63.2,92.8 60.5,91.8 56.7,93.1ZM71,100.3 75.3,99 74.8,92.7 73.1,92.1 69.7,93.1 69.4,99.6ZM81.8,99 83.2,99.6 87.2,98.7 87.9,92 85.2,91.1 81.2,92.5ZM93.6,99.5 95.7,100.5 98.9,99.7 99.7,91.7 97.6,91.1 94.3,92.2ZM105.3,100.4 107,101.2 109.4,100.5 110.4,92.2 108,91.3 106.1,91.8ZM115.7,100.9 117.4,101.5 121.8,97.5 119.3,92.7 116.7,93ZM124.9,89.6 127.9,95.2 131.6,96.4 133.8,95.4 133.5,88.6 130.6,87.8ZM140.1,95.1 143.6,96.1 145.4,95.4 145.4,88.4 141.8,87.5 139.8,88.3ZM151.6,95.1 154.9,96 157,95 156.7,88.3 153.4,87.3 151.6,88.1ZM163.2,94.4 166.3,95.2 168.3,94.2 168.3,88 165.1,87 162.9,87.9ZM174.5,93.9 177.2,94.7 187.3,91.6 187.3,89.7 176,87.2 174.5,87.8ZM9.3,105.6 12.3,105 13.3,99.6 12.1,98.7 -2.7,100.5 -2.7,100.6ZM20.9,107.7 24.1,107 25.7,101.9 24.1,100.8 19.8,101.3 18.8,106.4ZM30.5,108.7 33.3,110.5 35.6,110.2 36.3,103.6 32,104ZM43.1,112.1 46.6,111.8 47.2,105.5 42.8,105.2 42.1,111.5ZM53,112.9 54.6,113.8 56.5,113.3 57.4,106.3 53.9,105.1ZM123.3,109.9 128.6,110.5 128.6,103.3 126.5,102.6 121.9,106.7ZM134.9,110.3 138,111.1 140.6,110.1 140.6,103 137.3,102 134.9,103ZM146.9,102.7 146.9,109.8 150,110.7 152.9,109.4 152.3,102.9 148.7,101.9ZM159.1,108.9 162,109.8 164.5,108.7 163.8,102 160.6,101.2 158.5,102.2ZM170.7,108 173.9,108.8 174.1,108.7 174.1,101.2 171.7,100.5 170,101.3ZM180.3,101.2 180.3,108 187.3,108.8 187.3,99ZM4.6,118.6 5.3,112.3 -2.7,109 -2.7,119.2ZM11.2,120 12.9,120.9 15.6,120.5 16.6,114 14.5,112.7 12,113.2ZM22.1,121.8 24,122.7 25.9,122.6 28.5,116.2 26.1,114.6 23.1,115.3ZM65.2,114.3 67.5,113.7 67.5,107.1 65.7,106.3 63.9,106.7 63,113.7ZM75.4,114.4 79.5,113.6 79.5,106.4 78.5,105.9 74,107.3 74,113.9ZM86,114.3 87.8,115.1 91.1,114.6 91.8,107 89.8,106 86,106.9ZM97.4,115.7 99.5,116.7 103.5,116.1 103.5,108 101.5,107.1 98.2,107.9ZM109.9,116.8 111.4,117.5 112.2,117.4 117.3,112.5 115.7,108.9 112.2,107.7 109.9,108.4ZM166.2,123.9 168.7,124.5 171.1,123.5 171.1,115.6 168.1,114.9 165.5,116.1ZM177.3,123 187.3,125.1 187.3,116.3 177.7,115.2 177.3,115.3ZM32.3,124.4 35.1,125.7 37.2,125.3 38.7,118.4 37.8,117.9 34.9,118.2ZM43.7,126.4 45.9,127.4 49.7,126.6 50.5,120.3 48.9,119.4 45.1,119.8ZM56.2,127.6 57.5,128.4 61.4,128.1 61.9,121.3 59.4,120.7 57,121.2ZM67.9,129 71.8,128.3 71.8,121.3 70.6,120.8 68.4,121.4ZM78.3,128.9 79.9,129.6 82.1,129.2 83.7,121.6 82.3,120.9 78.3,121.7ZM88.4,130.4 91.7,132 93.8,131.6 95.4,123.1 93.5,122.2 90,122.8ZM100.1,132.8 102.1,133.7 105.3,133.2 107.2,124.1 106.2,123.6 101.7,124.3ZM118.2,121 124.4,125.9 124.6,125.9 125.6,117.6 122.2,117.2ZM132.1,117.4 130.9,126.7 132.7,127.3 136,125.9 135.3,118.2ZM142.3,125.4 145.6,126.3 148,125.4 147.3,117.6 144,116.7 141.6,117.7ZM154.3,125 157.1,125.7 160,124.5 159.3,116.7 156.4,115.8 153.5,117.1ZM6.1,134.8 8.4,127.5 6.9,126.7 -2.7,127.5 -2.7,135.6ZM12.6,136.6 14.6,137.7 18,137.1 19.6,129.3 17.9,128.5 15,128.9ZM24.5,138.3 26.9,139.5 29.5,138.9 30.9,132.2 27.6,130.6 26.1,130.8ZM37.4,133.4 36.1,140 38.5,141.2 41.4,140.4 42,134.1 39.5,133ZM50.4,142.2 52.3,141.6 53.1,134.6 52.1,134 48.5,134.8 47.9,141.1ZM59.8,142.4 63.7,141.4 63.7,135.6 59.5,135.9 58.9,142.1ZM70.2,142 70.8,142.3 74.7,141.5 75.8,136.1 74.6,135.5 70.2,136.3ZM111.6,134.6 113.3,135.4 116.7,134.9 119.4,130.8 113.4,126.1ZM122.6,137.9 127.6,142.8 130.5,141.6 129.8,134.2 127.2,133.4 125.5,133.6ZM136.1,133.9 136.8,141.2 140.1,142.2 142.6,141.2 142.6,133.3 139.6,132.5ZM148.9,133 148.9,140.9 152.1,141.8 155.1,140.5 154.4,132.8 151.6,132ZM160.7,132.2 161.4,140 163.8,140.8 167.8,139.2 166.3,131.6 163.6,131ZM172.5,130.7 174,138.5 174.5,138.7 187.3,135.4 187.3,132.4 174.6,129.8ZM6.4,151 9.5,150.4 10.3,144.2 7.9,142.9 -2.7,143.8 -2.7,147.5ZM16.1,151.7 18.5,153.1 22,152.3 22.9,146.2 20.3,144.9 16.9,145.5ZM83.9,144.9 85.5,144.6 87.5,138.2 84.4,136.7 82.2,137.1 81,143ZM91.7,146.5 95.8,149.1 97.3,148.9 98.2,140.3 96,139.3 93.8,139.7ZM103.6,149.9 105.6,150.7 108.5,150.1 109.4,141.8 107.5,140.9 104.5,141.4ZM115,149.9 123,147.7 117.6,142.3 115.7,142.7ZM177.9,145.2 179,151.1 187.3,152.1 187.3,142.8ZM31.2,154.8 34.2,154.1 34.7,147.9 32,146.6 29.5,147.2 28.5,153.4ZM42.9,156 46,155.1 46.6,148.9 44.1,147.8 41.3,148.6 40.7,154.9ZM55.3,157 57.4,156.3 56.5,149.4 55.2,148.9 53.2,149.5 52.5,155.8ZM63.9,155.6 66.7,156.1 66.9,156 66.9,148.7 66.5,148.5 63.1,149.3ZM73.4,149.4 73.4,155.2 76.4,155.5 79,150.3 76.7,148.7ZM85.2,152.6 82.2,158.8 85.4,162.2 86.7,162.2 90.9,154.7 87.2,152.4ZM120.8,162.7 126.3,159.9 123.8,154.9 117.8,156.6ZM129,150.9 132.6,158.2 135.2,158.9 137.6,157.9 137.2,149.3 134,148.3 129.3,150.3ZM143.9,157.6 148.3,158.6 150.2,157.8 149.4,148.9 146,148 143.5,149ZM156.5,157.2 161.3,158 162.4,157.5 161.1,147.8 158.6,147.1 155.6,148.4ZM168.5,155.6 172.9,152.7 171.7,145.6 171.4,145.5 167.3,147.1ZM1.8,164.1 2.5,158 -2.6,156 -2.6,165ZM8.4,165.1 10.9,166.1 13.3,165.5 14.3,159.6 11.9,158.1 9.2,158.7ZM19.9,166.5 22.9,168 25.9,167.1 27.1,161.2 24.5,159.9 20.8,160.8ZM33.6,162.3 32.5,167.9 35.6,169.3 38.7,168.4 39.1,162.7 36.8,161.6ZM45.2,169.1 47.4,170.2 51.6,168.8 51.9,163.7 48.8,162.4 45.7,163.3ZM58.2,169.4 61.5,171.3 64.4,169.7 64.1,163.5 61.2,163 58.4,164ZM70.8,169 76.1,170.4 79.8,166.4 76.7,163.3 70.9,162.6 70.5,162.7ZM92.7,164.9 94.4,166.2 101.1,165.7 101.8,157.5 99.8,156.6 97.1,157ZM107.4,166.5 115.3,166.3 111.1,157.6 108.2,158.2ZM177.5,164.8 187.3,164 187.3,159.3 177.1,158.1 173.1,160.8ZM6.9,173.4 4.4,172.4 -2.7,173.7 -2.7,185.7 4.3,185.7ZM19.1,175.2 15.8,173.6 13.5,174.2 11.1,186 18.3,186ZM31.8,176.4 28.6,174.9 25.7,175.8 24.9,186.1 30.8,186.1ZM43.8,177.2 41.4,176 38.4,176.9 37.5,186.2 43.8,186.2ZM58.2,178.3 54.4,176.2 50.3,177.5 50.3,186.3 58.2,186.3ZM74.4,178 68.2,176.4 64.7,178.4 64.7,186.4 76.2,186.4ZM82.7,185.9 88.9,185.9 90.1,172.6 87.6,170.8 85.5,170.8 80.7,176.1ZM102.3,173.7 96.4,174.2 95.4,186.2 102.3,186.2ZM108.7,186.2 112.8,186.2 114.6,174.2 108.7,174.4ZM120.8,176.2 119.2,186.5 125.2,186.5 126.7,179.6ZM123.2,169.3 130.1,173.2 132.2,171.9 132.2,166 130.7,165.5ZM138.5,171.6 142.2,173.3 145.4,171.8 145.4,165.6 141.1,164.6 138.5,165.6ZM151.7,171.9 154.6,173.5 158.6,171.6 158.6,165.2 153.9,164.3 151.7,165.2ZM164.8,171.9 167.4,173.5 171,172.5 172.6,169.2 167,164 166.4,163.9 164.8,164.6ZM178.4,172.1 176.9,175.1 187.3,185.5 187.3,171.3ZM139.1,179.9 135.6,178.3 133,180 131.6,186.7 139.1,186.7ZM151.3,180 148.4,178.4 145.4,179.9 145.4,186.7 151.3,186.7ZM157.6,186.7 163.1,186.7 163.7,179.6 161.5,178.2 157.6,180.1ZM172.3,179.7 169.9,180.4 169.3,186.9 179.5,186.9ZM45.6,-2.4 51.4,2 55.9,1.1 57.7,-2.4Z" fill="#fff" stroke="#fff" stroke-width="5.2" stroke-linejoin="round"/></g>
<path id="spk" d="M-2.8,2.4h2v3h-2zM0.2,-4.6h1v1h-1zM6.2,-5.6h2v1h-2zM5.2,8.4h1v1h-1zM17.2,-3.6h1v2h-1zM18.2,11.4h1v1h-1zM19.2,9.4h1v2h-1zM13.2,2.4h1v1h-1zM19.2,-4.6h1v2h-1zM17.2,8.4h2v2h-2zM25.2,10.4h2v1h-2zM30.2,11.4h1v3h-1zM25.2,3.4h2v3h-2zM46.2,12.4h1v3h-1zM39.2,14.4h2v3h-2zM69.2,2.4h2v3h-2zM65.2,-1.6h1v3h-1zM68.2,7.4h2v3h-2zM63.2,-3.6h2v1h-2zM64.2,8.4h2v1h-2zM73.2,7.4h1v1h-1zM76.2,3.4h2v2h-2zM85.2,5.4h1v1h-1zM89.2,-0.6h2v3h-2zM93.2,2.4h1v1h-1zM101.2,9.4h2v1h-2zM95.2,7.4h2v1h-2zM96.2,8.4h1v1h-1zM98.2,5.4h1v1h-1zM112.2,8.4h1v1h-1zM106.2,-1.6h2v2h-2zM107.2,1.4h1v2h-1zM111.2,12.4h1v1h-1zM123.2,-5.6h2v2h-2zM128.2,-2.6h2v1h-2zM128.2,13.4h1v3h-1zM132.2,-3.6h2v1h-2zM146.2,9.4h2v3h-2zM147.2,-0.6h1v2h-1zM162.2,3.4h1v1h-1zM178.2,4.4h2v2h-2zM7.2,19.4h2v2h-2zM-3.8,12.4h1v3h-1zM-1.8,11.4h1v2h-1zM4.2,17.4h1v1h-1zM60.2,11.4h1v1h-1zM59.2,11.4h2v2h-2zM56.2,7.4h1v1h-1zM50.2,9.4h2v2h-2zM57.2,6.4h1v1h-1zM64.2,14.4h1v2h-1zM69.2,14.4h1v1h-1zM68.2,11.4h1v1h-1zM65.2,20.4h1v1h-1zM70.2,12.4h2v2h-2zM78.2,15.4h2v3h-2zM77.2,12.4h2v2h-2zM74.2,18.4h1v1h-1zM75.2,17.4h2v1h-2zM91.2,20.4h1v1h-1zM88.2,13.4h1v2h-1zM91.2,19.4h2v3h-2zM102.2,13.4h2v1h-2zM101.2,13.4h2v2h-2zM103.2,22.4h2v3h-2zM109.2,18.4h2v2h-2zM110.2,16.4h1v1h-1zM110.2,24.4h1v3h-1zM121.2,26.4h2v1h-2zM120.2,17.4h1v1h-1zM124.2,19.4h1v2h-1zM182.2,15.4h1v1h-1zM173.2,19.4h2v1h-2zM10.2,32.4h1v1h-1zM7.2,32.4h1v3h-1zM6.2,32.4h1v1h-1zM9.2,22.4h2v2h-2zM13.2,26.4h2v2h-2zM14.2,25.4h1v1h-1zM16.2,19.4h1v1h-1zM24.2,17.4h1v2h-1zM32.2,14.4h2v2h-2zM37.2,27.4h2v1h-2zM34.2,28.4h1v1h-1zM35.2,21.4h2v3h-2zM32.2,26.4h1v3h-1zM32.2,16.4h1v1h-1zM45.2,26.4h1v3h-1zM49.2,20.4h1v2h-1zM45.2,26.4h2v3h-2zM42.2,19.4h1v2h-1zM47.2,30.4h1v1h-1zM55.2,28.4h1v1h-1zM55.2,27.4h1v1h-1zM63.2,24.4h1v1h-1zM71.2,22.4h1v1h-1zM70.2,32.4h2v2h-2zM135.2,25.4h1v1h-1zM133.2,16.4h2v1h-2zM138.2,26.4h2v1h-2zM154.2,13.4h2v1h-2zM159.2,23.4h1v1h-1zM157.2,21.4h2v3h-2zM161.2,17.4h1v2h-1zM-3.8,38.4h1v1h-1zM-1.8,32.4h1v2h-1zM3.2,34.4h2v1h-2zM-0.8,40.4h2v2h-2zM18.2,30.4h2v2h-2zM23.2,31.4h1v1h-1zM24.2,28.4h1v1h-1zM34.2,31.4h2v3h-2zM27.2,32.4h2v1h-2zM40.2,38.4h2v3h-2zM44.2,40.4h2v1h-2zM46.2,38.4h1v1h-1zM45.2,41.4h1v1h-1zM49.2,34.4h2v2h-2zM51.2,33.4h2v1h-2zM83.2,27.4h1v1h-1zM82.2,30.4h1v3h-1zM83.2,24.4h1v2h-1zM84.2,30.4h1v3h-1zM89.2,34.4h2v2h-2zM95.2,25.4h2v3h-2zM90.2,30.4h1v1h-1zM109.2,32.4h1v1h-1zM105.2,29.4h1v1h-1zM104.2,40.4h1v2h-1zM115.2,39.4h1v3h-1zM126.2,29.4h2v2h-2zM122.2,41.4h1v1h-1zM137.2,40.4h1v1h-1zM141.2,35.4h2v1h-2zM136.2,30.4h1v2h-1zM149.2,33.4h1v2h-1zM145.2,35.4h2v1h-2zM177.2,28.4h2v3h-2zM13.2,38.4h1v1h-1zM14.2,39.4h2v3h-2zM7.2,42.4h1v3h-1zM11.2,37.4h2v2h-2zM20.2,42.4h1v1h-1zM26.2,43.4h1v3h-1zM17.2,50.4h2v1h-2zM67.2,44.4h1v3h-1zM69.2,39.4h1v1h-1zM72.2,43.4h2v3h-2zM76.2,36.4h2v2h-2zM72.2,46.4h1v1h-1zM88.2,51.4h1v3h-1zM81.2,44.4h2v2h-2zM82.2,51.4h1v1h-1zM99.2,47.4h1v1h-1zM95.2,47.4h2v3h-2zM110.2,51.4h1v1h-1zM106.2,46.4h2v2h-2zM111.2,48.4h2v2h-2zM143.2,51.4h1v1h-1zM143.2,43.4h2v2h-2zM147.2,44.4h1v3h-1zM155.2,51.4h2v3h-2zM164.2,44.4h2v1h-2zM1.2,46.4h1v1h-1zM-3.8,55.4h1v2h-1zM-2.8,50.4h2v3h-2zM-1.8,50.4h1v3h-1zM6.2,59.4h1v2h-1zM9.2,66.4h1v1h-1zM13.2,65.4h1v3h-1zM14.2,62.4h1v3h-1zM31.2,47.4h2v3h-2zM32.2,53.4h1v3h-1zM40.2,53.4h2v3h-2zM45.2,48.4h1v1h-1zM51.2,49.4h2v1h-2zM59.2,48.4h1v1h-1zM63.2,53.4h2v1h-2zM76.2,52.4h1v1h-1zM75.2,59.4h1v1h-1zM79.2,53.4h1v1h-1zM71.2,53.4h1v3h-1zM67.2,54.4h1v1h-1zM69.2,50.4h2v1h-2zM118.2,42.4h1v1h-1zM120.2,50.4h1v2h-1zM125.2,51.4h2v2h-2zM124.2,56.4h2v2h-2zM129.2,53.4h1v3h-1zM131.2,48.4h1v3h-1zM131.2,47.4h2v2h-2zM28.2,67.4h1v1h-1zM26.2,68.4h1v1h-1zM24.2,66.4h1v1h-1zM28.2,67.4h2v3h-2zM25.2,65.4h1v2h-1zM34.2,58.4h1v3h-1zM40.2,65.4h1v2h-1zM49.2,60.4h1v3h-1zM51.2,66.4h1v1h-1zM52.2,59.4h2v3h-2zM55.2,68.4h1v2h-1zM60.2,65.4h2v2h-2zM66.2,61.4h1v1h-1zM67.2,69.4h2v1h-2zM72.2,74.4h1v2h-1zM83.2,63.4h2v3h-2zM87.2,68.4h1v3h-1zM84.2,57.4h2v2h-2zM91.2,65.4h1v1h-1zM119.2,66.4h2v2h-2zM115.2,58.4h1v2h-1zM137.2,60.4h1v1h-1zM138.2,61.4h1v3h-1zM155.2,58.4h1v3h-1zM165.2,60.4h1v2h-1zM4.2,71.4h2v3h-2zM4.2,75.4h1v2h-1zM-1.8,64.4h1v1h-1zM-3.8,66.4h1v2h-1zM14.2,80.4h2v1h-2zM18.2,71.4h1v1h-1zM11.2,72.4h2v1h-2zM13.2,76.4h2v1h-2zM10.2,75.4h2v3h-2zM13.2,80.4h1v3h-1zM28.2,76.4h1v2h-1zM22.2,77.4h1v3h-1zM37.2,76.4h1v1h-1zM40.2,74.4h1v1h-1zM42.2,84.4h1v2h-1zM52.2,73.4h2v1h-2zM54.2,85.4h2v1h-2zM59.2,80.4h2v2h-2zM52.2,75.4h2v1h-2zM54.2,76.4h1v3h-1zM97.2,78.4h2v2h-2zM102.2,79.4h2v1h-2zM101.2,86.4h1v1h-1zM111.2,74.4h1v3h-1zM111.2,84.4h2v1h-2zM126.2,82.4h2v3h-2zM139.2,73.4h2v3h-2zM148.2,82.4h2v3h-2zM164.2,76.4h1v1h-1zM156.2,71.4h1v2h-1zM185.2,77.4h2v1h-2zM188.2,72.4h1v2h-1zM11.2,88.4h2v3h-2zM-4.8,83.4h2v3h-2zM2.2,82.4h1v2h-1zM7.2,81.4h2v1h-2zM11.2,84.4h2v2h-2zM4.2,85.4h2v1h-2zM5.2,81.4h1v2h-1zM66.2,88.4h1v1h-1zM61.2,83.4h2v2h-2zM67.2,78.4h2v1h-2zM78.2,88.4h1v1h-1zM76.2,83.4h1v2h-1zM85.2,74.4h2v2h-2zM23.2,84.4h1v1h-1zM18.2,85.4h1v1h-1zM15.2,86.4h2v3h-2zM15.2,87.4h2v2h-2zM29.2,93.4h1v3h-1zM29.2,97.4h1v3h-1zM37.2,90.4h2v2h-2zM33.2,87.4h1v1h-1zM50.2,100.4h1v2h-1zM52.2,96.4h1v1h-1zM51.2,96.4h2v3h-2zM51.2,92.4h1v1h-1zM49.2,92.4h1v1h-1zM63.2,100.4h2v1h-2zM64.2,101.4h1v1h-1zM61.2,96.4h1v3h-1zM55.2,95.4h1v2h-1zM69.2,94.4h1v1h-1zM72.2,89.4h1v1h-1zM74.2,89.4h1v1h-1zM76.2,90.4h1v1h-1zM86.2,98.4h1v3h-1zM84.2,97.4h2v3h-2zM88.2,92.4h1v3h-1zM100.2,89.4h2v2h-2zM91.2,100.4h2v3h-2zM96.2,88.4h1v1h-1zM112.2,91.4h2v3h-2zM103.2,92.4h2v1h-2zM117.2,96.4h2v2h-2zM123.2,97.4h1v1h-1zM116.2,91.4h2v1h-2zM129.2,88.4h2v2h-2zM149.2,92.4h2v1h-2zM165.2,91.4h1v3h-1zM175.2,88.4h2v2h-2zM177.2,86.4h2v1h-2zM8.2,99.4h2v2h-2zM-3.8,99.4h2v1h-2zM13.2,95.4h1v3h-1zM17.2,104.4h1v2h-1zM23.2,97.4h2v2h-2zM21.2,98.4h2v2h-2zM19.2,99.4h1v3h-1zM37.2,109.4h1v3h-1zM34.2,111.4h2v2h-2zM36.2,106.4h1v1h-1zM33.2,110.4h2v1h-2zM50.2,111.4h2v1h-2zM53.2,112.4h2v1h-2zM55.2,115.4h1v3h-1zM53.2,112.4h2v2h-2zM130.2,108.4h1v3h-1zM130.2,112.4h1v1h-1zM133.2,104.4h1v1h-1zM140.2,107.4h1v3h-1zM153.2,102.4h1v1h-1zM162.2,99.4h2v3h-2zM171.2,110.4h2v2h-2zM175.2,108.4h1v3h-1zM178.2,109.4h2v2h-2zM183.2,108.4h1v1h-1zM-0.8,107.4h1v1h-1zM-4.8,105.4h1v1h-1zM0.2,108.4h1v1h-1zM1.2,107.4h1v1h-1zM-1.8,105.4h1v1h-1zM-5.8,108.4h2v3h-2zM-4.8,104.4h2v2h-2zM-2.8,120.4h1v1h-1zM-4.8,121.4h1v2h-1zM3.2,109.4h2v2h-2zM16.2,121.4h2v2h-2zM30.2,115.4h2v1h-2zM25.2,111.4h2v3h-2zM21.2,119.4h1v1h-1zM22.2,117.4h1v2h-1zM27.2,114.4h1v3h-1zM26.2,112.4h1v1h-1zM19.2,120.4h2v1h-2zM21.2,112.4h1v1h-1zM61.2,107.4h2v2h-2zM60.2,112.4h1v3h-1zM78.2,107.4h1v1h-1zM79.2,107.4h2v3h-2zM71.2,113.4h2v2h-2zM71.2,116.4h2v1h-2zM84.2,110.4h2v3h-2zM90.2,108.4h1v2h-1zM87.2,104.4h2v2h-2zM90.2,116.4h1v2h-1zM103.2,110.4h2v2h-2zM101.2,112.4h1v1h-1zM117.2,107.4h1v1h-1zM165.2,123.4h1v1h-1zM165.2,115.4h2v1h-2zM185.2,113.4h1v3h-1zM178.2,114.4h1v1h-1zM31.2,121.4h1v1h-1zM37.2,125.4h2v3h-2zM39.2,118.4h1v1h-1zM50.2,123.4h2v2h-2zM49.2,115.4h1v3h-1zM44.2,129.4h1v2h-1zM53.2,124.4h2v2h-2zM59.2,126.4h2v2h-2zM56.2,124.4h1v1h-1zM57.2,129.4h1v2h-1zM56.2,117.4h1v3h-1zM66.2,129.4h1v1h-1zM71.2,129.4h1v3h-1zM71.2,119.4h2v1h-2zM67.2,119.4h1v3h-1zM88.2,129.4h2v2h-2zM94.2,132.4h1v1h-1zM101.2,130.4h2v2h-2zM98.2,129.4h1v2h-1zM126.2,118.4h1v1h-1zM130.2,115.4h2v1h-2zM136.2,117.4h1v3h-1zM148.2,124.4h2v3h-2zM147.2,125.4h2v3h-2zM151.2,124.4h2v2h-2zM161.2,117.4h1v1h-1zM2.2,135.4h1v1h-1zM-0.8,133.4h1v3h-1zM3.2,123.4h2v3h-2zM12.2,137.4h1v3h-1zM25.2,142.4h2v1h-2zM30.2,137.4h2v2h-2zM28.2,140.4h1v2h-1zM23.2,131.4h1v1h-1zM27.2,141.4h2v3h-2zM41.2,134.4h2v2h-2zM38.2,131.4h2v2h-2zM42.2,135.4h1v1h-1zM49.2,142.4h1v1h-1zM53.2,132.4h2v3h-2zM46.2,142.4h2v2h-2zM46.2,142.4h1v1h-1zM58.2,140.4h1v1h-1zM60.2,139.4h2v1h-2zM65.2,136.4h2v3h-2zM58.2,143.4h1v1h-1zM69.2,143.4h1v1h-1zM68.2,137.4h2v3h-2zM70.2,140.4h2v2h-2zM68.2,133.4h1v2h-1zM110.2,130.4h2v2h-2zM119.2,133.4h2v2h-2zM130.2,136.4h2v3h-2zM129.2,137.4h2v1h-2zM142.2,143.4h2v3h-2zM155.2,130.4h2v3h-2zM166.2,135.4h1v2h-1zM11.2,151.4h2v1h-2zM7.2,141.4h2v2h-2zM8.2,145.4h1v1h-1zM19.2,145.4h1v1h-1zM22.2,145.4h2v3h-2zM15.2,148.4h1v1h-1zM21.2,153.4h1v1h-1zM21.2,144.4h1v2h-1zM18.2,154.4h1v1h-1zM82.2,137.4h2v1h-2zM87.2,145.4h1v2h-1zM87.2,137.4h2v1h-2zM93.2,137.4h1v1h-1zM94.2,136.4h2v1h-2zM102.2,143.4h1v1h-1zM110.2,149.4h2v2h-2zM103.2,143.4h2v2h-2zM109.2,148.4h1v3h-1zM113.2,147.4h2v3h-2zM121.2,147.4h2v2h-2zM176.2,144.4h1v1h-1zM29.2,146.4h1v1h-1zM27.2,152.4h1v3h-1zM43.2,145.4h2v2h-2zM47.2,150.4h1v1h-1zM50.2,146.4h2v2h-2zM50.2,155.4h2v1h-2zM56.2,157.4h1v2h-1zM52.2,148.4h1v2h-1zM64.2,153.4h1v3h-1zM68.2,148.4h1v3h-1zM63.2,157.4h2v3h-2zM67.2,154.4h1v2h-1zM66.2,145.4h1v3h-1zM71.2,148.4h2v3h-2zM77.2,153.4h2v1h-2zM92.2,153.4h1v1h-1zM80.2,159.4h1v3h-1zM92.2,153.4h1v2h-1zM123.2,162.4h1v3h-1zM131.2,150.4h1v3h-1zM145.2,159.4h2v1h-2zM140.2,149.4h2v2h-2zM149.2,150.4h1v1h-1zM154.2,157.4h1v1h-1zM154.2,144.4h2v3h-2zM167.2,153.4h1v3h-1zM-1.8,161.4h2v1h-2zM0.2,154.4h2v3h-2zM-0.8,158.4h1v1h-1zM11.2,154.4h1v2h-1zM6.2,162.4h1v3h-1zM15.2,165.4h1v1h-1zM12.2,156.4h1v1h-1zM14.2,155.4h2v3h-2zM10.2,154.4h1v2h-1zM6.2,162.4h1v1h-1zM10.2,156.4h2v3h-2zM11.2,161.4h1v3h-1zM20.2,164.4h1v2h-1zM27.2,158.4h1v1h-1zM22.2,156.4h1v2h-1zM23.2,169.4h2v2h-2zM23.2,161.4h1v3h-1zM27.2,160.4h2v2h-2zM23.2,169.4h1v1h-1zM32.2,170.4h2v2h-2zM33.2,163.4h1v3h-1zM33.2,162.4h1v1h-1zM31.2,162.4h2v1h-2zM30.2,167.4h2v3h-2zM43.2,170.4h1v2h-1zM52.2,160.4h1v1h-1zM58.2,171.4h1v1h-1zM55.2,167.4h2v2h-2zM77.2,166.4h1v1h-1zM78.2,163.4h1v2h-1zM69.2,164.4h1v3h-1zM96.2,163.4h1v1h-1zM93.2,157.4h2v3h-2zM102.2,162.4h2v2h-2zM107.2,164.4h1v1h-1zM188.2,158.4h1v1h-1zM-0.8,176.4h2v2h-2zM-4.8,171.4h1v1h-1zM18.2,175.4h1v2h-1zM12.2,177.4h1v2h-1zM16.2,188.4h2v2h-2zM24.2,177.4h1v2h-1zM24.2,172.4h1v1h-1zM23.2,186.4h1v1h-1zM33.2,177.4h1v2h-1zM35.2,187.4h2v1h-2zM40.2,179.4h1v3h-1zM37.2,189.4h2v1h-2zM44.2,184.4h1v2h-1zM59.2,180.4h1v2h-1zM56.2,178.4h2v2h-2zM54.2,183.4h1v1h-1zM49.2,182.4h2v3h-2zM62.2,179.4h1v1h-1zM78.2,188.4h2v2h-2zM67.2,173.4h2v3h-2zM87.2,189.4h2v1h-2zM89.2,170.4h1v1h-1zM83.2,181.4h1v1h-1zM98.2,171.4h1v1h-1zM93.2,183.4h2v1h-2zM110.2,188.4h2v1h-2zM106.2,185.4h1v1h-1zM128.2,179.4h1v1h-1zM121.2,179.4h1v1h-1zM121.2,181.4h2v2h-2zM121.2,167.4h2v3h-2zM131.2,174.4h1v3h-1zM121.2,170.4h1v2h-1zM134.2,167.4h1v2h-1zM136.2,167.4h2v3h-2zM136.2,173.4h2v2h-2zM158.2,173.4h1v3h-1zM162.2,171.4h2v1h-2zM140.2,182.4h1v2h-1zM153.2,180.4h2v3h-2zM143.2,186.4h2v2h-2zM155.2,188.4h2v1h-2zM161.2,180.4h2v3h-2zM160.2,187.4h2v3h-2zM181.2,187.4h2v3h-2zM59.2,-2.6h1v1h-1zM40.2,-5.6h2v3h-2zM58.2,-0.6h1v1h-1zM48.2,0.4h1v1h-1zM51.2,-5.6h2v2h-2zM47.2,-2.6h1v1h-1z" fill="#000"/>
<path id="op" d="M8.8,5.6 9.9,-2.4 -3,-2.4 -3,7.4ZM14.7,7.2 17.1,9.3 20.8,8.8 22.3,-2.2 16,-2.2ZM28.9,11.4 33.3,10.4 35.9,-2.2 28.4,-2.2 26.7,10ZM42.3,13.9 46.1,13.3 47.2,7.4 41.2,2.5 39.2,11.9ZM64.2,6.9 68.2,6.3 68.6,-2.5 64.6,-2.5 61.7,3.7ZM74.1,7.4 74.7,7.8 79.7,6.6 80.1,-2.5 74.6,-2.5ZM85.6,7.5 87.1,8.7 91.3,7.9 91.8,-2.4 86.1,-2.4ZM97.2,8.9 97.4,9 102.3,8.3 102.9,-2.4 97.8,-2.4ZM108.2,9.3 109,9.8 112.7,9.1 112.7,-2.4 108.8,-2.4ZM118.6,9.5 118.9,9.7 120.7,9.5 124.2,-2.5 118.6,-2.5ZM128.8,12.2 130.3,11.9 129.1,2 126.5,11.1ZM136.3,11.6 136.7,11.7 140,10.5 139.4,-2.4 134.5,-2.4ZM145.9,10.4 148.1,11.2 150.8,10.1 150.8,-2.5 145.3,-2.5ZM156.7,9.9 160.4,11 162.2,10.1 161.6,-2.5 156.7,-2.5ZM168,9.6 171.8,10.6 173,9.9 172.3,-2.5 167.4,-2.5ZM178.8,9 187.5,10.2 187.5,-2.6 178.1,-2.6ZM10.7,18.4 12.5,14.3 10.5,12.5 -3,14.6 -3,19.7ZM54.9,16.4 57.6,15.8 59.4,11.3 57,8.1 53,8.9 52,14.7ZM63.4,17.4 66.4,19.3 70.7,18.3 70.9,13.4 70.2,12.9 65,13.7ZM78.2,20.3 82,19.7 83.1,14 81.9,13.1 76.9,14.3 76.6,19.2ZM87.8,21.1 89.7,22.3 93.7,21.7 93.7,14.7 93.5,14.6 88.9,15.4ZM99.7,22.4 100.7,23 104.6,22.2 105.3,15.5 104.5,15 99.7,15.6ZM111.7,23.6 114.8,23 115.3,15.6 111.2,16.4 110.5,23ZM120.7,23.5 122.9,24.3 123,24.3 125,17.5 122.5,16.3 121.2,16.4ZM175.9,22.7 179.5,23.6 187.5,19.5 187.5,16.8 176.6,15.4 175.3,16.1ZM-0.3,26.3 10.7,32.3 13.1,27.1 11.5,25.1ZM18.2,23.2 24.1,23.4 25.1,17.3 22.8,15.8 18.2,16.5 16.3,20.9ZM30,24.6 36.7,26.2 38.3,19.3 35.3,17.4 31.1,18.4ZM48,20.1 44.2,20.8 42.8,26.9 47.6,28.6 49.8,27.7 51,21.8ZM55.8,28.6 60.6,31.4 61.9,31.1 62.6,24.6 59.2,22.5 56.9,23ZM67.9,31.8 69.2,32.4 73,31.7 74.2,25.5 72.9,24.7 68.5,25.6ZM131.8,26.5 134.7,25.3 134,18.2 133.4,18 130.9,18.5 128.9,25.3ZM143.5,25.8 146.1,24.4 145.5,17.5 143.1,16.7 139.9,17.9 140.6,24.9ZM151.9,23.7 155.8,24.7 157.8,23.6 157.8,17.2 153.9,16 151.3,17.2ZM163.6,23.1 168.3,24.4 170.1,23.4 169.5,16.9 165.6,15.8 163.6,16.8ZM3.5,40.9 6.5,37.4 -3,32.3 -3,40.9ZM16.2,35.2 19.2,37.3 21.8,37 23.2,30.3 18.6,30.2ZM29.6,39.6 32.5,39 33.8,32.6 29.2,31.5 27.7,38.4ZM38.5,40.2 41.2,41.7 43.8,41 44.5,34.7 39.9,33.1ZM49.8,41.7 53.7,43.4 56.5,36.7 52.2,34.2 50.5,34.9ZM78.9,32.9 81.5,34.6 84.4,34.2 85.7,27.5 83.8,26.2 80.1,26.9ZM92.2,36.7 96.4,36.1 97.1,28.6 96.1,28.1 91.5,28.8 90.2,35.5ZM102.3,37.2 103.8,38.1 108.2,37.6 108.2,29.3 107,28.6 103,29.5ZM114.2,38.5 114.3,38.5 117.2,38.3 119.2,30 117.4,29.3 114.2,29.9ZM123,39.6 123.7,39.9 128.7,39.9 128.9,39.8 128.9,32.4 125.1,30.8ZM134.7,32.3 134.7,39.1 139.5,40 141.7,38.9 141.1,32 137.9,31ZM146.9,31.4 147.5,38.3 151,39.3 154.1,38 153.5,30.9 149.6,29.9ZM159.3,30.1 160,37.5 162.8,38.3 165.8,37.3 165.8,30.4 161.1,29.1ZM171.6,29.9 171.6,37.3 174.3,38.2 177.9,37.2 177.1,29.7 173.6,28.8ZM182.9,29.1 183.7,37.1 187.5,38.4 187.5,26.7ZM12.2,40.5 8.8,44.5 12.3,48.8 12.6,48.8 14.8,42.3ZM18.2,51.4 18.9,52.2 24.4,51.8 25.7,45.1 23.6,43.9 20.7,44.3ZM65.8,45.4 65.8,38.3 64.4,37.6 62.4,38.1 60,43.9ZM71.8,45.3 75.6,45.5 77.4,39.7 75,38.2 71.8,38.8ZM81.1,48.2 84.1,51.4 86.5,51.2 88.3,42.1 86.3,40.9 83.2,41.4ZM93.5,53.1 98.2,52.2 99.8,43.6 98.5,42.7 94.1,43.4 92.3,52.5ZM107.4,54.8 109.5,54.1 110.6,44.3 105.6,44.9 104,53.2ZM143.4,53.2 145.8,54.2 149.1,52.8 148.5,45.5 145,44.5 143,45.5ZM157.2,53.4 160.5,52.1 160.1,44.4 157.4,43.6 154.3,45 155,52.6ZM169.5,52.9 171.3,52.1 171.3,44.1 168.7,43.1 165.9,44.1 166.3,51.9ZM187.5,54.6 187.5,45.5 180.9,43.1 177.1,44.2 177.1,51.8ZM-3,57 6.3,51.5 3.5,48 -3,48ZM2.6,61.3 11.9,64.5 12.8,64.2 14.5,57.2 13.3,56.1 11.4,56ZM30.2,53.4 31.3,54.1 36.2,53.2 37.4,47.3 34.6,45.7 31.6,46.3ZM43.3,48.2 42.2,54.5 44.2,55.9 49.9,54.6 50.4,49.4 46.3,47.5ZM55.8,55.9 57.2,57.1 63.2,56.9 64,51.8 56.5,49.8ZM69.2,58.9 76.5,58.9 79.1,55.4 76.4,52.4 70.1,52 69,58.7ZM115.5,54.1 118.4,54.9 119.8,45.4 119.1,45.1 116.4,45.3ZM124.4,54.8 127.8,54.3 126.8,46.7 125.6,46.7ZM132.6,45.4 133.7,54.5 137.5,53.2 137.2,46.3ZM18.8,65.3 22.7,67.4 26.9,66.2 27.4,59.7 26,58.7 20.3,59.2ZM37,69.3 39.4,68.4 40.3,61.4 38.2,59.9 33.4,60.9 32.9,67ZM45.4,68.7 50.1,70.3 51.4,69.9 52.8,62.1 51.8,61.2 46.3,62.4ZM57.5,70.5 61.4,72 63.3,71.3 64.8,63.7 64.7,63.6 58.6,63.9ZM69.3,71.9 72.3,73.2 77.9,70.7 75.9,65.6 70.5,65.6ZM81.4,62.8 84,69.6 84.5,69.8 90.2,68.5 90,59.1 88.4,58.3 84.5,58.6ZM96.1,68.8 103.5,67.7 104,60.7 100.3,58.9 96,59.7ZM109.3,69 110.3,69.7 117.2,69 118.1,68.2 117.5,61.7 112.4,60.3 110,61.2ZM123.4,61.5 123.9,66.9 130,68 131.2,67.3 130.6,60.5ZM136.5,60.5 137,66.6 141.2,67.7 142.8,66.9 142.8,60 140.5,59.1ZM148.7,66.6 152.9,67.8 155.1,66.7 154.5,59.4 152.3,58.6 148.7,60ZM160.9,66.2 164.7,67.3 166.8,66.4 166.8,58.9 163.6,57.9 160.3,59.2ZM172.6,66.2 175.7,67.1 187.5,63.5 187.5,61.2 174.5,57.8 172.6,58.7ZM-3,66.6 -3,78.7 5.9,77 8.1,70.4ZM11.8,78.5 15.2,80.4 18.4,79.4 19.1,73.2 15,71 14.3,71.3ZM24.4,80.1 27.9,82 32.3,81 33.4,75.1 29.3,72.8 25.1,74ZM40.7,84.4 45.8,83.7 46.8,76.5 42.2,74.9 39.4,75.9 38.3,82.4ZM51.7,85 54,86.4 57.6,85.1 58.2,78.1 54.1,76.5 52.9,76.9ZM100.2,84.2 103.1,85 105.4,84.3 106.3,75 105.4,74.3 98.8,75.4ZM111.3,84.8 114.3,86 119.4,85.4 116.4,76 112.1,76.4ZM121.9,73.4 124.7,82.3 127.6,81.4 127.6,74.2 122.1,73.3ZM133.5,81.3 136.3,82.2 138.6,81.2 138.6,73.8 134.7,72.8 133.5,73.5ZM144.4,80.9 148.3,82 150.3,81.1 150.3,73.9 146,72.6 144.4,73.4ZM156.1,80.9 159.5,81.9 162,80.9 162,73.3 158.5,72.3 156.1,73.5ZM167.9,73 167.9,80.7 171.3,81.8 172.8,81.2 172.8,73 169.9,72.1ZM178.6,73 178.6,80.8 187.5,82.9 187.5,70.3ZM10.5,91.5 11.5,86.2 7.7,84.1 -3,86 -3,93.2ZM66.7,86.6 70.1,85.5 69.6,79.3 65.9,77.8 64.2,78.3 63.6,85.3ZM76.1,85.5 77.9,86.2 82,84.6 81.4,76.4 75.5,79ZM88,84.4 91.3,85.6 94.2,84.6 92.7,75.1 87.4,76.3ZM16.5,93.1 17.9,94.2 22.6,93.6 24,87.7 20.9,85.9 17.6,87ZM30.4,96.7 35.5,96.2 36.6,89.6 34.2,87.8 30,88.8 28.5,95.2ZM41.3,97.8 50,98.4 50.5,92.2 47.7,90.5 42.4,91.2ZM56,98.2 61.1,99.9 63.1,99.4 63.5,92.6 60.5,91.4 56.4,92.8ZM71,100.7 75.6,99.3 75,92.4 73.2,91.6 69.5,92.8 69.1,99.9ZM81.6,99.3 83.1,100.1 87.5,99.1 88.1,91.7 85.2,90.6 81,92.2ZM93.4,99.8 95.6,100.9 99.1,100.1 100,91.3 97.6,90.6 94.1,91.9ZM105,100.7 107,101.7 109.6,100.9 110.7,91.8 108,90.8 105.9,91.4ZM115.5,101.3 117.4,101.9 122.1,97.6 119.4,92.3 116.5,92.6ZM124.7,89.4 127.8,95.6 131.6,96.8 134,95.7 133.7,88.3 130.6,87.4ZM139.9,95.4 143.6,96.6 145.6,95.7 145.6,88.1 141.7,87 139.5,88ZM151.4,95.4 154.9,96.4 157.2,95.2 156.9,88 153.4,86.9 151.4,87.8ZM163,94.7 166.4,95.6 168.5,94.5 168.5,87.8 165.1,86.6 162.7,87.7ZM174.3,94.2 177.2,95.1 187.5,91.8 187.5,89.5 176,86.9 174.3,87.6ZM9.2,106.1 12.5,105.3 13.6,99.4 12.2,98.3 -3,100.2 -3,100.7ZM20.8,108.1 24.3,107.4 26,101.7 24.2,100.4 19.5,101 18.5,106.6ZM30.2,108.9 33.3,110.9 35.9,110.6 36.6,103.1 31.8,103.6ZM43.1,112.6 46.8,112.1 47.5,105.1 42.5,104.8 41.8,111.8ZM52.8,113.2 54.5,114.2 56.7,113.7 57.7,105.9 53.6,104.6ZM123.1,110.2 128.7,110.9 128.9,110.8 128.9,103 126.4,102.2 121.6,106.6ZM134.7,110.6 138,111.5 140.8,110.4 140.8,102.7 137.3,101.5 134.7,102.7ZM146.7,102.4 146.7,110.1 150,111.1 153.1,109.7 152.5,102.6 148.7,101.5ZM159,109.3 162,110.2 164.7,108.9 164,101.7 160.6,100.8 158.3,102ZM170.5,108.3 173.9,109.2 174.3,109 174.3,100.9 171.7,100.1 169.8,101.1ZM180.1,100.9 180.1,108.4 187.5,109.3 187.5,98.5ZM4.8,119 5.6,112 -3,108.2 -3,119.7ZM10.8,120.3 12.9,121.4 15.9,120.9 16.9,113.7 14.6,112.2 11.7,112.8ZM21.8,122.1 24,123.2 26.1,123 28.9,116 26.1,114.2 22.9,114.9ZM65.2,114.8 67.8,114 67.8,106.8 65.7,105.8 63.7,106.3 62.7,114ZM75.4,114.9 79.8,114 79.8,106.1 78.5,105.5 73.8,107 73.8,114.2ZM85.7,114.6 87.8,115.6 91.3,115 92.1,106.8 89.8,105.6 85.7,106.5ZM97.2,116 99.5,117.1 103.7,116.5 103.7,107.7 101.6,106.6 98,107.5ZM109.7,117.2 111.3,117.9 112.3,117.8 117.6,112.6 115.9,108.6 112.2,107.3 109.7,108.1ZM166,124.3 168.7,124.9 171.3,123.8 171.3,115.3 168.1,114.5 165.3,115.8ZM177.1,123.3 187.5,125.6 187.5,115.9 177.7,114.7 177.1,115ZM32,124.6 35,126.2 37.4,125.7 39,118.1 37.9,117.4 34.7,117.8ZM43.4,126.7 45.9,127.9 49.9,126.9 50.8,120 48.9,118.9 44.9,119.4ZM55.9,127.9 57.4,128.8 61.7,128.5 62.1,121 59.4,120.2 56.8,120.9ZM67.6,129.5 72.1,128.6 72.1,120.9 70.6,120.3 68.1,121.1ZM78,129.2 79.8,130.1 82.3,129.6 83.9,121.3 82.3,120.5 78,121.4ZM88.2,130.7 91.7,132.5 94,132 95.7,122.8 93.6,121.8 89.8,122.4ZM99.8,133.1 102.1,134.2 105.5,133.6 107.5,123.7 106.2,123.2 101.5,123.9ZM117.9,121 124.4,126.4 124.8,126.4 125.9,117.3 122.1,116.8ZM131.9,116.9 130.6,127 132.7,127.7 136.2,126.2 135.5,117.9 132,116.9ZM142.1,125.8 145.6,126.8 148.3,125.7 147.5,117.3 143.9,116.3 141.3,117.4ZM154.1,125.3 157.1,126.1 160.2,124.8 159.4,116.3 156.4,115.4 153.3,116.8ZM6.3,135.3 8.7,127.1 6.9,126.2 -3,127 -3,136.2ZM12.2,136.9 14.5,138.2 18.3,137.5 19.9,129 18,128 14.7,128.5ZM24.2,138.6 26.9,140 29.8,139.3 31.2,131.9 27.7,130.1 25.9,130.3ZM37.2,133 35.7,140.3 38.5,141.6 41.6,140.8 42.3,133.8 39.6,132.5ZM50.3,142.6 52.6,142 53.4,134.3 52.1,133.5 48.3,134.5 47.6,141.4ZM59.7,142.8 64,141.7 64,135.3 63.8,135.2 59.3,135.6 58.6,142.4ZM70,142.3 70.8,142.7 74.9,141.9 76.1,135.8 74.6,135.1 70,136ZM111.3,134.8 113.3,135.9 116.9,135.2 119.7,130.8 113.2,125.4ZM122.4,137.9 127.6,143.3 130.7,141.9 130,133.9 127.2,133 125.3,133.3ZM135.9,133.6 136.6,141.5 140.1,142.7 142.8,141.5 142.8,133 139.6,132ZM148.7,132.7 148.7,141.3 152.1,142.3 155.4,140.8 154.6,132.4 151.5,131.6ZM160.5,131.9 161.2,140.3 163.8,141.2 168,139.4 166.5,131.2 163.6,130.5ZM172.3,130.4 173.8,138.9 174.5,139.1 187.5,135.7 187.5,132.2 174.6,129.4ZM6.4,151.6 9.7,150.8 10.6,143.9 8,142.4 -3,143.4 -3,147.7ZM15.8,151.9 18.4,153.6 22.2,152.7 23.2,145.9 20.4,144.4 16.6,145.1ZM83.8,145.3 85.7,145 87.7,138 84.4,136.3 82,136.8 80.8,143.2ZM91.4,146.7 95.7,149.6 97.5,149.3 98.4,140 96.1,138.8 93.6,139.3ZM103.4,150.2 105.6,151.2 108.7,150.5 109.6,141.5 107.5,140.4 104.3,141ZM114.7,150.4 123.4,147.9 123.4,147.9 117.7,141.9 115.5,142.3ZM177.7,144.9 178.8,151.4 187.5,152.5 187.5,142.3ZM31.2,155.2 34.4,154.5 35,147.6 32,146.1 29.2,146.8 28.2,153.6ZM42.9,156.4 46.3,155.5 46.9,148.6 44.2,147.3 41,148.2 40.4,155.2ZM55.3,157.4 57.7,156.6 56.7,149 55.3,148.5 52.9,149.2 52.2,156.1ZM63.6,156 66.7,156.6 67.2,156.3 67.2,148.4 66.5,148 62.8,149ZM73.2,149.1 73.2,155.5 76.6,156 79.3,150.1 76.8,148.3ZM85.1,152.2 81.9,159 85.3,162.7 86.9,162.7 91.2,154.6 87.3,151.9ZM120.6,163.2 126.5,160.1 123.9,154.5 117.5,156.3ZM128.8,150.7 132.4,158.6 135.2,159.4 137.8,158.3 137.4,148.9 134,147.8 129.1,150ZM143.7,157.9 148.3,159 150.5,158.1 149.6,148.6 146,147.5 143.3,148.7ZM156.3,157.6 161.3,158.5 162.6,157.9 161.3,147.5 158.6,146.6 155.4,148.1ZM168.3,156.2 173.1,152.9 171.8,145.2 171.4,145.1 167.1,146.9ZM2.1,164.6 2.8,157.7 -2.9,155.3 -2.9,165.5ZM8.1,165.4 10.8,166.6 13.5,165.8 14.6,159.3 11.9,157.7 8.9,158.4ZM19.5,166.7 22.9,168.5 26.2,167.5 27.4,161 24.5,159.4 20.6,160.4ZM33.4,161.9 32.2,168.2 35.5,169.8 38.9,168.7 39.4,162.4 36.9,161.1ZM44.9,169.3 47.4,170.7 51.9,169.1 52.1,163.4 48.8,162 45.4,162.9ZM57.9,169.7 61.5,171.8 64.6,170 64.3,163.2 61.2,162.6 58.1,163.7ZM70.6,169.3 76.2,170.8 80.1,166.3 76.9,162.9 70.8,162.1 70.3,162.4ZM92.4,165.2 94.4,166.6 101.3,166.1 102.1,157.2 99.8,156.1 97,156.6ZM107.2,166.9 115.6,166.7 111.3,157.1 108,157.8ZM177.4,165.2 187.5,164.3 187.5,159 177.1,157.7 172.8,160.7ZM7.2,173 4.5,171.8 -3,173.2 -3,186.4 4.6,186.4ZM19.4,174.8 15.9,172.9 13.3,173.7 10.8,186.5 18.5,186.5ZM32.1,176 28.6,174.3 25.5,175.3 24.6,186.6 31.1,186.6ZM44,176.8 41.4,175.4 38.1,176.5 37.2,186.7 44,186.7ZM58.5,178 54.5,175.6 50.1,177.2 50.1,186.8 58.5,186.8ZM74.7,177.6 68.2,175.9 64.5,178 64.5,186.8 76.5,186.8ZM82.5,186.5 89.1,186.5 90.3,172.2 87.7,170.2 85.4,170.2 80.5,175.9ZM102.6,173.1 96.2,173.6 95.1,186.7 102.6,186.7ZM108.5,186.7 113,186.7 114.9,173.7 108.5,173.9ZM120.6,175.5 119,187 125.4,187 126.9,179.4ZM122.8,169.3 130.1,173.7 132.5,172.1 132.5,165.6 130.6,165.1ZM138.3,171.9 142.2,173.8 145.6,172.1 145.6,165.3 141.1,164.2 138.3,165.3ZM151.5,172.2 154.6,174 158.8,171.9 158.8,164.8 153.9,163.9 151.5,164.9ZM164.6,172.1 167.4,174 171.2,172.8 172.8,169.1 167.1,163.6 166.3,163.5 164.6,164.3ZM178.3,171.7 176.7,175.1 187.5,186.5 187.5,170.9ZM139.3,179.7 135.6,177.9 132.8,179.7 131.4,187.1 139.3,187.1ZM151.5,179.8 148.4,178 145.2,179.6 145.2,187.1 151.5,187.1ZM157.4,187.1 163.2,187.1 163.9,179.4 161.5,177.8 157.4,179.9ZM172.4,179.3 169.7,180.1 169.1,187.2 179.9,187.2ZM44.9,-2.7 51.3,2.4 56.1,1.4 58.1,-2.7Z"/>
<g id="oc" stroke-linejoin="round"><rect x="-8" y="-8" width="200" height="200" fill="#000"/><use href="#op" fill="#707070" stroke="#707070" stroke-width="5.2"/><use href="#op" fill="#ffffff" stroke="#ffffff" stroke-width="2.4000000000000004"/><path d="M9,4h2v1h-2zM-5,3h1v1h-1zM4,6h2v2h-2zM9,6h1v1h-1zM-5,3h1v1h-1zM9,-6h1v1h-1zM-4,4h1v2h-1zM7,-4h1v1h-1zM11,-7h2v3h-2zM5,-2h1v2h-1zM15,5h1v1h-1zM23,-2h2v1h-2zM20,-2h2v2h-2zM16,9h1v3h-1zM18,11h1v1h-1zM19,6h1v3h-1zM16,-4h1v1h-1zM29,-5h1v1h-1zM34,2h2v2h-2zM33,10h1v1h-1zM29,4h1v3h-1zM36,-5h2v2h-2zM32,6h2v1h-2zM24,11h1v1h-1zM37,-4h2v2h-2zM39,6h1v1h-1zM48,7h1v1h-1zM46,14h1v3h-1zM42,1h1v1h-1zM44,14h1v2h-1zM39,4h1v2h-1zM40,-2h2v2h-2zM38,6h2v3h-2zM65,7h1v3h-1zM70,1h2v3h-2zM64,-5h2v3h-2zM69,2h2v1h-2zM73,3h2v1h-2zM80,3h2v3h-2zM78,2h2v2h-2zM73,8h1v2h-1zM75,-1h1v1h-1zM73,-4h1v1h-1zM83,7h2v3h-2zM90,10h1v1h-1zM83,-4h2v2h-2zM93,-5h1v3h-1zM98,10h1v1h-1zM95,9h1v3h-1zM107,-4h2v1h-2zM118,7h1v2h-1zM125,-4h2v1h-2zM117,9h1v1h-1zM129,7h1v2h-1zM129,9h1v1h-1zM134,-1h1v1h-1zM134,9h1v1h-1zM146,9h1v1h-1zM159,-1h2v3h-2zM162,-5h2v2h-2zM171,-5h1v3h-1zM168,10h1v3h-1zM168,-4h2v2h-2zM189,2h1v3h-1zM182,10h1v1h-1zM4,15h1v3h-1zM-5,19h1v2h-1zM10,20h2v2h-2zM4,18h2v1h-2zM13,11h1v3h-1zM12,15h1v2h-1zM3,20h2v3h-2zM5,20h2v1h-2zM1,16h2v1h-2zM51,6h2v2h-2zM59,16h1v1h-1zM54,11h2v2h-2zM51,6h2v3h-2zM51,16h1v2h-1zM66,20h1v3h-1zM71,18h1v2h-1zM65,10h1v2h-1zM62,18h2v1h-2zM80,19h1v1h-1zM84,14h1v1h-1zM80,11h1v1h-1zM81,11h1v2h-1zM92,14h1v3h-1zM89,13h2v2h-2zM93,21h2v1h-2zM94,16h1v3h-1zM102,23h2v2h-2zM106,16h2v1h-2zM97,18h2v2h-2zM110,18h2v3h-2zM116,17h1v1h-1zM121,24h1v3h-1zM187,20h1v2h-1zM10,34h2v1h-2zM5,28h1v3h-1zM10,22h1v3h-1zM10,22h2v2h-2zM7,23h1v1h-1zM1,27h1v3h-1zM2,24h1v1h-1zM17,23h1v2h-1zM19,23h1v2h-1zM20,13h1v1h-1zM23,15h1v3h-1zM25,23h2v1h-2zM19,23h1v2h-1zM22,13h1v3h-1zM21,23h1v2h-1zM17,15h2v1h-2zM23,24h2v1h-2zM37,27h1v1h-1zM39,21h1v3h-1zM36,17h1v1h-1zM29,21h1v2h-1zM31,18h2v2h-2zM41,27h2v1h-2zM48,17h2v1h-2zM51,20h1v1h-1zM43,20h2v1h-2zM49,18h1v2h-1zM62,24h2v3h-2zM62,31h2v1h-2zM58,20h1v3h-1zM55,20h1v2h-1zM58,21h1v2h-1zM55,22h2v3h-2zM73,24h1v1h-1zM68,33h1v2h-1zM74,32h1v1h-1zM69,30h1v2h-1zM67,24h1v1h-1zM67,26h1v1h-1zM136,22h1v1h-1zM134,21h1v3h-1zM144,17h2v1h-2zM142,26h2v1h-2zM167,24h1v2h-1zM163,13h2v3h-2zM5,35h2v3h-2zM-1,42h1v1h-1zM-4,29h2v3h-2zM2,42h2v3h-2zM-4,29h2v2h-2zM7,38h2v1h-2zM-5,34h2v1h-2zM-1,37h2v1h-2zM4,33h2v3h-2zM0,38h1v2h-1zM24,35h1v1h-1zM22,32h2v2h-2zM19,32h1v1h-1zM20,33h2v2h-2zM22,27h1v3h-1zM23,37h1v3h-1zM24,32h1v2h-1zM16,31h2v2h-2zM20,28h2v3h-2zM34,31h1v1h-1zM33,30h1v1h-1zM30,40h2v3h-2zM28,34h2v2h-2zM31,35h2v1h-2zM26,38h1v3h-1zM27,29h1v2h-1zM31,29h1v2h-1zM27,38h2v3h-2zM25,36h2v1h-2zM41,43h1v1h-1zM42,32h2v3h-2zM43,36h2v1h-2zM45,39h2v3h-2zM39,31h1v1h-1zM40,35h2v1h-2zM43,35h1v1h-1zM52,39h1v2h-1zM49,41h1v1h-1zM49,37h2v1h-2zM50,42h1v2h-1zM56,34h2v2h-2zM51,33h1v1h-1zM55,34h1v3h-1zM48,36h1v2h-1zM85,24h1v3h-1zM87,28h1v1h-1zM84,25h1v1h-1zM83,34h2v2h-2zM98,28h1v2h-1zM92,33h2v2h-2zM91,27h1v1h-1zM96,34h2v2h-2zM104,30h2v1h-2zM100,33h1v1h-1zM100,38h2v1h-2zM114,35h2v1h-2zM116,28h1v1h-1zM112,30h1v1h-1zM114,40h1v1h-1zM129,33h1v2h-1zM128,41h1v1h-1zM150,32h1v1h-1zM166,35h2v2h-2zM160,28h1v1h-1zM161,27h2v3h-2zM169,32h2v2h-2zM175,25h1v3h-1zM186,24h1v1h-1zM188,32h1v1h-1zM186,24h1v3h-1zM15,39h1v2h-1zM10,46h2v1h-2zM8,42h2v2h-2zM13,39h1v1h-1zM10,42h1v1h-1zM13,46h1v2h-1zM11,38h1v1h-1zM14,44h2v2h-2zM16,40h2v3h-2zM20,50h2v2h-2zM26,47h2v2h-2zM17,47h1v3h-1zM27,44h1v1h-1zM21,54h1v1h-1zM22,53h2v1h-2zM24,45h1v3h-1zM20,41h2v3h-2zM26,50h1v3h-1zM61,38h2v1h-2zM63,41h1v3h-1zM63,43h2v1h-2zM63,37h2v2h-2zM66,39h1v1h-1zM59,40h1v1h-1zM59,42h1v3h-1zM60,39h1v2h-1zM74,47h2v3h-2zM77,40h2v3h-2zM76,46h1v2h-1zM69,47h1v1h-1zM82,50h2v3h-2zM85,42h1v2h-1zM88,40h2v2h-2zM80,43h1v1h-1zM87,38h1v1h-1zM93,49h2v1h-2zM93,43h1v2h-1zM92,42h1v1h-1zM95,43h2v3h-2zM111,50h1v2h-1zM110,53h2v1h-2zM109,42h1v1h-1zM152,42h1v2h-1zM161,52h1v1h-1zM163,48h2v3h-2zM171,50h1v3h-1zM188,45h2v1h-2zM177,52h2v3h-2zM176,47h2v1h-2zM-5,58h1v1h-1zM4,47h1v1h-1zM-5,47h1v1h-1zM1,45h1v1h-1zM8,51h2v3h-2zM-4,50h1v2h-1zM2,46h1v3h-1zM-2,51h1v1h-1zM-6,44h1v2h-1zM2,45h1v1h-1zM4,57h2v1h-2zM13,59h1v3h-1zM6,64h2v2h-2zM9,64h1v1h-1zM2,59h2v1h-2zM-1,60h2v3h-2zM-1,61h1v2h-1zM14,60h2v1h-2zM11,60h1v1h-1zM15,63h1v1h-1zM33,47h1v1h-1zM38,48h2v1h-2zM31,52h2v3h-2zM37,45h2v2h-2zM38,45h1v2h-1zM35,55h1v1h-1zM29,53h1v3h-1zM29,43h2v2h-2zM28,52h2v2h-2zM37,54h2v1h-2zM44,52h1v1h-1zM41,53h1v1h-1zM40,55h1v1h-1zM45,49h1v2h-1zM45,44h1v2h-1zM41,51h2v2h-2zM50,52h2v3h-2zM47,53h1v1h-1zM53,49h2v2h-2zM55,51h2v1h-2zM54,49h2v2h-2zM61,51h2v3h-2zM55,49h1v1h-1zM63,56h1v3h-1zM55,53h1v1h-1zM71,54h1v1h-1zM69,52h1v3h-1zM115,47h1v3h-1zM119,52h2v2h-2zM120,50h1v1h-1zM123,53h2v3h-2zM133,48h2v2h-2zM28,61h1v3h-1zM28,63h1v2h-1zM25,61h2v3h-2zM29,58h1v1h-1zM25,67h1v3h-1zM26,61h1v3h-1zM28,57h2v3h-2zM35,66h1v3h-1zM38,57h1v1h-1zM37,68h2v3h-2zM35,68h2v2h-2zM41,66h1v1h-1zM37,59h1v3h-1zM35,61h1v1h-1zM34,60h2v3h-2zM33,57h2v2h-2zM49,67h1v1h-1zM43,63h1v3h-1zM45,60h2v2h-2zM53,59h1v1h-1zM51,58h2v1h-2zM44,68h1v2h-1zM46,70h2v3h-2zM65,61h2v3h-2zM64,63h2v1h-2zM66,64h2v2h-2zM63,63h2v3h-2zM56,65h2v1h-2zM65,61h1v1h-1zM74,73h2v2h-2zM74,71h1v3h-1zM71,74h1v1h-1zM72,74h1v3h-1zM74,70h2v3h-2zM79,71h1v1h-1zM82,62h1v2h-1zM79,63h2v1h-2zM84,66h2v3h-2zM100,62h1v1h-1zM104,61h1v2h-1zM96,64h1v3h-1zM96,67h1v1h-1zM98,70h1v2h-1zM93,67h2v2h-2zM107,68h2v3h-2zM109,69h1v3h-1zM115,70h1v1h-1zM122,59h1v2h-1zM128,64h2v2h-2zM124,59h1v1h-1zM130,58h1v2h-1zM140,58h2v2h-2zM141,58h2v2h-2zM148,62h1v2h-1zM150,56h2v2h-2zM168,61h2v2h-2zM159,66h2v2h-2zM172,67h1v1h-1zM188,63h2v2h-2zM178,57h1v2h-1zM6,70h1v2h-1zM4,70h2v1h-2zM-5,78h1v1h-1zM2,77h1v3h-1zM5,67h2v1h-2zM5,74h1v1h-1zM2,65h1v3h-1zM-5,62h2v3h-2zM1,65h2v2h-2zM1,72h2v3h-2zM12,73h1v2h-1zM15,73h2v1h-2zM12,79h1v1h-1zM16,76h2v1h-2zM19,73h1v1h-1zM16,71h2v2h-2zM29,82h2v2h-2zM25,73h2v1h-2zM28,84h1v1h-1zM25,83h2v3h-2zM34,80h1v2h-1zM29,78h2v1h-2zM27,70h1v1h-1zM34,74h1v2h-1zM24,80h2v3h-2zM34,78h1v2h-1zM47,75h2v1h-2zM40,76h1v1h-1zM43,82h1v1h-1zM44,82h1v3h-1zM38,76h1v2h-1zM40,82h1v1h-1zM48,78h1v3h-1zM54,87h2v1h-2zM51,78h1v2h-1zM58,81h2v2h-2zM59,81h1v3h-1zM56,78h1v1h-1zM105,71h1v2h-1zM103,78h1v1h-1zM105,79h2v2h-2zM110,80h1v3h-1zM112,73h1v3h-1zM117,75h1v2h-1zM121,75h1v1h-1zM121,76h1v2h-1zM125,70h1v3h-1zM135,72h1v2h-1zM131,78h1v3h-1zM149,72h2v1h-2zM151,74h1v1h-1zM158,74h1v1h-1zM174,71h1v2h-1zM167,77h2v3h-2zM168,71h1v1h-1zM188,74h2v1h-2zM3,85h1v1h-1zM9,89h1v1h-1zM2,85h2v2h-2zM-5,89h1v3h-1zM-4,88h1v1h-1zM7,93h2v3h-2zM61,78h2v1h-2zM66,76h1v2h-1zM66,76h2v1h-2zM69,87h1v3h-1zM63,75h1v1h-1zM76,82h2v2h-2zM83,83h1v3h-1zM76,82h1v2h-1zM75,81h1v2h-1zM83,84h1v1h-1zM90,87h2v2h-2zM85,83h2v2h-2zM89,80h1v1h-1zM94,81h1v1h-1zM87,81h1v1h-1zM85,81h1v3h-1zM23,94h1v1h-1zM15,88h2v2h-2zM15,86h1v1h-1zM20,83h2v2h-2zM22,95h1v2h-1zM20,91h1v1h-1zM24,92h1v1h-1zM24,85h1v1h-1zM29,89h1v1h-1zM33,90h1v3h-1zM33,84h2v3h-2zM32,98h2v1h-2zM31,84h2v3h-2zM30,92h2v1h-2zM36,93h2v3h-2zM30,95h2v2h-2zM39,95h2v2h-2zM51,98h1v3h-1zM41,92h1v1h-1zM45,93h1v1h-1zM45,98h1v1h-1zM57,99h2v1h-2zM63,91h2v2h-2zM64,97h1v2h-1zM57,100h2v3h-2zM64,90h1v1h-1zM57,91h2v2h-2zM67,95h2v3h-2zM67,97h2v2h-2zM70,99h1v1h-1zM74,100h2v1h-2zM71,93h2v3h-2zM82,92h1v3h-1zM79,94h2v3h-2zM89,95h2v1h-2zM86,96h2v1h-2zM95,101h1v1h-1zM98,88h1v3h-1zM96,101h1v1h-1zM104,102h2v1h-2zM109,93h2v2h-2zM108,102h2v3h-2zM104,96h1v3h-1zM116,100h2v1h-2zM118,100h1v3h-1zM129,86h2v1h-2zM127,89h2v2h-2zM130,99h2v1h-2zM145,96h2v2h-2zM144,94h2v3h-2zM144,91h1v2h-1zM153,94h1v1h-1zM155,87h1v1h-1zM169,86h2v2h-2zM163,84h1v2h-1zM185,92h2v1h-2zM5,99h2v1h-2zM10,106h2v1h-2zM-5,98h2v2h-2zM13,96h1v1h-1zM8,103h1v1h-1zM-3,100h2v2h-2zM-6,99h2v1h-2zM0,96h1v3h-1zM12,106h2v3h-2zM3,96h1v1h-1zM0,97h1v2h-1zM19,107h1v2h-1zM20,97h1v3h-1zM25,100h1v3h-1zM25,106h1v2h-1zM26,99h1v1h-1zM24,102h2v3h-2zM22,97h1v3h-1zM16,104h2v2h-2zM31,111h2v1h-2zM38,107h1v2h-1zM35,101h1v2h-1zM33,103h1v1h-1zM29,100h2v2h-2zM31,112h2v2h-2zM35,110h2v3h-2zM37,100h2v3h-2zM41,113h1v1h-1zM44,102h2v2h-2zM41,110h2v2h-2zM46,110h2v3h-2zM49,106h1v3h-1zM44,102h1v1h-1zM46,103h2v1h-2zM48,106h2v3h-2zM44,106h2v1h-2zM48,107h1v1h-1zM57,106h2v2h-2zM57,111h2v2h-2zM57,106h1v2h-1zM57,114h1v2h-1zM54,115h1v1h-1zM54,110h1v1h-1zM129,103h1v3h-1zM126,108h2v3h-2zM124,101h1v1h-1zM135,103h2v3h-2zM139,100h1v1h-1zM146,108h1v1h-1zM150,100h1v2h-1zM158,106h1v3h-1zM161,106h2v3h-2zM171,109h2v3h-2zM188,104h2v1h-2zM1,120h1v2h-1zM-2,118h1v1h-1zM-5,117h1v2h-1zM-4,117h1v3h-1zM9,119h1v2h-1zM14,116h2v1h-2zM16,120h2v2h-2zM12,110h2v3h-2zM15,122h1v1h-1zM12,124h2v1h-2zM9,111h2v2h-2zM9,116h1v3h-1zM15,109h1v2h-1zM10,111h1v1h-1zM13,110h1v1h-1zM18,112h1v1h-1zM21,117h1v1h-1zM22,121h1v1h-1zM20,121h1v1h-1zM20,123h1v1h-1zM62,113h1v3h-1zM65,108h1v3h-1zM69,105h1v1h-1zM65,106h2v1h-2zM62,112h1v3h-1zM63,115h1v1h-1zM64,115h1v1h-1zM71,106h2v1h-2zM72,105h1v1h-1zM80,115h1v1h-1zM76,104h1v1h-1zM88,104h1v1h-1zM92,106h1v1h-1zM84,106h1v1h-1zM95,108h2v3h-2zM98,106h1v1h-1zM100,109h2v3h-2zM95,111h1v1h-1zM111,109h2v2h-2zM110,118h1v2h-1zM118,113h1v1h-1zM111,109h2v2h-2zM165,125h1v1h-1zM179,113h2v1h-2zM37,126h1v2h-1zM35,127h1v3h-1zM40,120h1v1h-1zM31,119h2v1h-2zM33,115h2v2h-2zM35,115h2v1h-2zM34,126h1v3h-1zM37,126h1v3h-1zM49,127h1v3h-1zM41,123h2v1h-2zM43,116h2v3h-2zM44,117h1v1h-1zM48,126h1v3h-1zM49,118h1v1h-1zM44,118h1v1h-1zM62,125h2v3h-2zM56,117h2v3h-2zM55,124h2v1h-2zM55,128h2v2h-2zM69,117h1v2h-1zM71,130h1v1h-1zM65,123h1v3h-1zM67,130h1v3h-1zM71,130h2v1h-2zM76,130h1v1h-1zM76,120h1v1h-1zM80,118h1v2h-1zM77,127h1v1h-1zM85,121h2v2h-2zM82,130h1v3h-1zM78,126h2v2h-2zM75,127h2v2h-2zM86,129h2v1h-2zM87,127h2v3h-2zM88,125h1v3h-1zM90,131h1v1h-1zM95,120h2v1h-2zM99,128h1v1h-1zM103,127h2v2h-2zM106,134h2v3h-2zM102,126h2v2h-2zM121,125h2v3h-2zM122,125h1v3h-1zM127,115h2v1h-2zM131,113h2v2h-2zM141,114h1v2h-1zM159,116h1v2h-1zM-5,138h1v2h-1zM6,134h1v1h-1zM-5,137h1v1h-1zM4,132h1v3h-1zM8,132h2v2h-2zM8,126h1v3h-1zM4,124h1v1h-1zM4,130h1v3h-1zM-5,133h1v1h-1zM6,129h2v2h-2zM0,124h1v2h-1zM17,135h1v1h-1zM14,136h2v2h-2zM10,137h2v2h-2zM12,130h2v1h-2zM19,134h1v1h-1zM12,128h1v2h-1zM19,137h2v2h-2zM17,130h2v1h-2zM12,131h1v1h-1zM12,131h2v1h-2zM15,126h1v3h-1zM33,132h1v1h-1zM31,136h1v3h-1zM31,132h2v3h-2zM31,136h2v3h-2zM31,136h2v3h-2zM26,132h2v1h-2zM37,133h1v1h-1zM43,137h1v1h-1zM40,139h2v1h-2zM42,138h1v3h-1zM39,137h2v2h-2zM35,133h1v1h-1zM44,131h1v3h-1zM41,141h2v3h-2zM54,133h2v1h-2zM54,134h2v1h-2zM48,134h1v1h-1zM54,134h1v1h-1zM49,144h2v3h-2zM52,131h2v2h-2zM59,145h1v1h-1zM59,132h1v2h-1zM63,138h2v2h-2zM60,139h1v1h-1zM64,135h1v1h-1zM58,137h1v2h-1zM69,142h2v2h-2zM72,133h1v2h-1zM68,134h1v3h-1zM69,143h1v3h-1zM113,131h1v1h-1zM112,130h2v2h-2zM111,131h1v2h-1zM121,136h1v1h-1zM129,142h2v1h-2zM142,138h2v1h-2zM143,138h1v1h-1zM156,139h2v2h-2zM156,140h1v2h-1zM160,135h1v2h-1zM167,135h1v3h-1zM185,137h1v3h-1zM188,134h2v2h-2zM182,136h1v1h-1zM-4,146h1v1h-1zM10,142h1v3h-1zM8,148h2v2h-2zM8,148h2v2h-2zM9,148h1v1h-1zM5,141h2v3h-2zM10,141h1v1h-1zM-4,141h2v2h-2zM5,153h2v1h-2zM-2,147h2v2h-2zM20,153h1v1h-1zM17,152h2v2h-2zM17,143h1v1h-1zM23,153h1v3h-1zM17,142h1v3h-1zM22,149h1v3h-1zM87,146h1v1h-1zM83,135h2v1h-2zM82,137h1v1h-1zM80,142h2v1h-2zM99,141h1v2h-1zM99,148h1v2h-1zM91,146h2v1h-2zM96,149h2v3h-2zM91,142h1v1h-1zM109,145h2v1h-2zM102,141h1v1h-1zM118,143h1v3h-1zM118,151h1v2h-1zM113,145h1v3h-1zM183,140h2v1h-2zM178,148h2v1h-2zM34,147h2v3h-2zM28,146h2v3h-2zM27,146h2v2h-2zM35,150h2v1h-2zM32,152h1v1h-1zM31,147h1v2h-1zM32,145h1v1h-1zM31,156h2v1h-2zM29,155h1v3h-1zM35,155h1v1h-1zM40,153h2v3h-2zM44,157h2v2h-2zM40,147h1v3h-1zM46,146h2v2h-2zM42,150h1v2h-1zM44,153h1v1h-1zM47,152h1v1h-1zM40,146h1v1h-1zM46,150h2v3h-2zM51,145h2v3h-2zM58,151h2v2h-2zM52,150h1v1h-1zM57,152h1v2h-1zM50,154h1v1h-1zM51,157h2v3h-2zM67,156h2v2h-2zM65,149h2v1h-2zM64,146h1v2h-1zM75,145h1v2h-1zM74,151h1v1h-1zM73,146h1v3h-1zM79,148h2v2h-2zM74,150h2v3h-2zM79,147h2v1h-2zM80,161h2v1h-2zM82,161h2v1h-2zM84,161h1v3h-1zM85,150h2v1h-2zM87,163h2v3h-2zM117,158h1v3h-1zM117,158h1v1h-1zM120,153h1v1h-1zM133,146h1v1h-1zM138,153h1v1h-1zM163,156h2v1h-2zM172,148h2v2h-2zM174,148h1v1h-1zM1,166h1v1h-1zM-1,161h2v2h-2zM4,155h1v3h-1zM3,165h1v1h-1zM-5,159h1v1h-1zM-4,165h1v1h-1zM-3,166h2v1h-2zM-2,162h2v3h-2zM-4,154h2v3h-2zM-3,166h2v1h-2zM4,162h1v1h-1zM11,165h1v3h-1zM15,156h2v3h-2zM9,165h1v3h-1zM7,163h1v3h-1zM26,162h1v1h-1zM28,164h1v3h-1zM27,169h1v1h-1zM25,170h1v1h-1zM26,160h2v2h-2zM39,168h1v1h-1zM37,168h1v1h-1zM32,167h1v3h-1zM36,168h1v1h-1zM33,166h1v1h-1zM36,169h1v1h-1zM51,161h1v1h-1zM48,160h2v1h-2zM53,168h2v2h-2zM51,161h1v1h-1zM53,160h2v3h-2zM50,165h1v3h-1zM48,172h2v2h-2zM46,165h2v2h-2zM60,171h1v3h-1zM62,163h2v2h-2zM57,163h2v3h-2zM64,167h1v3h-1zM60,173h1v3h-1zM55,166h2v3h-2zM57,163h1v1h-1zM73,160h2v2h-2zM77,159h2v3h-2zM71,169h2v2h-2zM70,170h1v2h-1zM77,161h2v2h-2zM97,154h1v1h-1zM99,156h1v1h-1zM93,159h2v3h-2zM96,160h2v2h-2zM107,156h1v2h-1zM111,160h2v2h-2zM110,164h1v1h-1zM116,168h2v2h-2zM173,163h1v2h-1zM176,157h1v3h-1zM8,173h1v1h-1zM7,184h1v1h-1zM3,177h1v1h-1zM4,187h2v1h-2zM-4,174h1v1h-1zM-5,185h1v1h-1zM-1,188h1v3h-1zM-5,172h1v1h-1zM6,185h1v1h-1zM7,178h1v2h-1zM5,186h2v2h-2zM20,187h1v1h-1zM19,185h1v1h-1zM12,173h1v2h-1zM11,187h2v3h-2zM19,182h1v1h-1zM8,188h2v2h-2zM14,179h1v2h-1zM10,181h1v2h-1zM9,184h2v3h-2zM15,176h1v2h-1zM28,171h2v2h-2zM30,175h2v2h-2zM25,172h1v2h-1zM32,188h2v2h-2zM32,178h2v2h-2zM28,172h1v1h-1zM23,189h1v1h-1zM23,180h1v2h-1zM45,186h1v1h-1zM35,176h2v3h-2zM44,175h1v2h-1zM40,181h1v2h-1zM40,181h1v2h-1zM44,182h1v1h-1zM43,176h1v1h-1zM54,173h1v1h-1zM48,178h1v2h-1zM47,182h2v2h-2zM50,185h2v3h-2zM51,177h1v2h-1zM56,175h1v1h-1zM73,175h2v2h-2zM62,178h2v1h-2zM62,187h1v1h-1zM77,187h2v2h-2zM74,179h1v2h-1zM91,172h1v3h-1zM91,179h1v1h-1zM88,178h1v1h-1zM86,174h1v1h-1zM103,187h2v3h-2zM104,187h1v1h-1zM94,180h1v1h-1zM95,175h2v3h-2zM112,182h1v1h-1zM107,186h1v2h-1zM111,185h1v1h-1zM119,178h1v2h-1zM121,174h2v2h-2zM144,162h1v1h-1zM151,175h1v1h-1zM152,161h2v3h-2zM166,174h2v2h-2zM164,168h2v2h-2zM188,177h1v1h-1zM185,168h2v2h-2zM189,177h1v1h-1zM129,184h2v3h-2zM140,178h2v2h-2zM151,188h2v3h-2zM170,180h1v1h-1zM173,178h1v2h-1zM52,0h1v1h-1zM50,0h2v2h-2zM42,-5h1v1h-1zM55,-5h1v1h-1z" fill="#404040" opacity="0.7"/><path d="M-3,2h2v3h-2zM0,-5h1v1h-1zM6,-6h2v1h-2zM5,8h1v1h-1zM17,-4h1v2h-1zM18,11h1v1h-1zM19,9h1v2h-1zM13,2h1v1h-1zM19,-5h1v2h-1zM17,8h2v2h-2zM25,10h2v1h-2zM30,11h1v3h-1zM25,3h2v3h-2zM46,12h1v3h-1zM39,14h2v3h-2zM69,2h2v3h-2zM65,-2h1v3h-1zM68,7h2v3h-2zM63,-4h2v1h-2zM64,8h2v1h-2zM73,7h1v1h-1zM76,3h2v2h-2zM85,5h1v1h-1zM89,-1h2v3h-2zM93,2h1v1h-1zM101,9h2v1h-2zM95,7h2v1h-2zM96,8h1v1h-1zM98,5h1v1h-1zM112,8h1v1h-1zM106,-2h2v2h-2zM107,1h1v2h-1zM111,12h1v1h-1zM123,-6h2v2h-2zM128,-3h2v1h-2zM128,13h1v3h-1zM132,-4h2v1h-2zM146,9h2v3h-2zM147,-1h1v2h-1zM162,3h1v1h-1zM178,4h2v2h-2zM7,19h2v2h-2zM-4,12h1v3h-1zM-2,11h1v2h-1zM4,17h1v1h-1zM60,11h1v1h-1zM59,11h2v2h-2zM56,7h1v1h-1zM50,9h2v2h-2zM57,6h1v1h-1zM64,14h1v2h-1zM69,14h1v1h-1zM68,11h1v1h-1zM65,20h1v1h-1zM70,12h2v2h-2zM78,15h2v3h-2zM77,12h2v2h-2zM74,18h1v1h-1zM75,17h2v1h-2zM91,20h1v1h-1zM88,13h1v2h-1zM91,19h2v3h-2zM102,13h2v1h-2zM101,13h2v2h-2zM103,22h2v3h-2zM109,18h2v2h-2zM110,16h1v1h-1zM110,24h1v3h-1zM121,26h2v1h-2zM120,17h1v1h-1zM124,19h1v2h-1zM182,15h1v1h-1zM173,19h2v1h-2zM10,32h1v1h-1zM7,32h1v3h-1zM6,32h1v1h-1zM9,22h2v2h-2zM13,26h2v2h-2zM14,25h1v1h-1zM16,19h1v1h-1zM24,17h1v2h-1zM32,14h2v2h-2zM37,27h2v1h-2zM34,28h1v1h-1zM35,21h2v3h-2zM32,26h1v3h-1zM32,16h1v1h-1zM45,26h1v3h-1zM49,20h1v2h-1zM45,26h2v3h-2zM42,19h1v2h-1zM47,30h1v1h-1zM55,28h1v1h-1zM55,27h1v1h-1zM63,24h1v1h-1zM71,22h1v1h-1zM70,32h2v2h-2zM135,25h1v1h-1zM133,16h2v1h-2zM138,26h2v1h-2zM154,13h2v1h-2zM159,23h1v1h-1zM157,21h2v3h-2zM161,17h1v2h-1zM-4,38h1v1h-1zM-2,32h1v2h-1zM3,34h2v1h-2zM-1,40h2v2h-2zM18,30h2v2h-2zM23,31h1v1h-1zM24,28h1v1h-1zM34,31h2v3h-2zM27,32h2v1h-2zM40,38h2v3h-2zM44,40h2v1h-2zM46,38h1v1h-1zM45,41h1v1h-1zM49,34h2v2h-2zM51,33h2v1h-2zM83,27h1v1h-1zM82,30h1v3h-1zM83,24h1v2h-1zM84,30h1v3h-1zM89,34h2v2h-2zM95,25h2v3h-2zM90,30h1v1h-1zM109,32h1v1h-1zM105,29h1v1h-1zM104,40h1v2h-1zM115,39h1v3h-1zM126,29h2v2h-2zM122,41h1v1h-1zM137,40h1v1h-1zM141,35h2v1h-2zM136,30h1v2h-1zM149,33h1v2h-1zM145,35h2v1h-2zM177,28h2v3h-2zM13,38h1v1h-1zM14,39h2v3h-2zM7,42h1v3h-1zM11,37h2v2h-2zM20,42h1v1h-1zM26,43h1v3h-1zM17,50h2v1h-2zM67,44h1v3h-1zM69,39h1v1h-1zM72,43h2v3h-2zM76,36h2v2h-2zM72,46h1v1h-1zM88,51h1v3h-1zM81,44h2v2h-2zM82,51h1v1h-1zM99,47h1v1h-1zM95,47h2v3h-2zM110,51h1v1h-1zM106,46h2v2h-2zM111,48h2v2h-2zM143,51h1v1h-1zM143,43h2v2h-2zM147,44h1v3h-1zM155,51h2v3h-2zM164,44h2v1h-2zM1,46h1v1h-1zM-4,55h1v2h-1zM-3,50h2v3h-2zM-2,50h1v3h-1zM6,59h1v2h-1zM9,66h1v1h-1zM13,65h1v3h-1zM14,62h1v3h-1zM31,47h2v3h-2zM32,53h1v3h-1zM40,53h2v3h-2zM45,48h1v1h-1zM51,49h2v1h-2zM59,48h1v1h-1zM63,53h2v1h-2zM76,52h1v1h-1zM75,59h1v1h-1zM79,53h1v1h-1zM71,53h1v3h-1zM67,54h1v1h-1zM69,50h2v1h-2zM118,42h1v1h-1zM120,50h1v2h-1zM125,51h2v2h-2zM124,56h2v2h-2zM129,53h1v3h-1zM131,48h1v3h-1zM131,47h2v2h-2zM28,67h1v1h-1zM26,68h1v1h-1zM24,66h1v1h-1zM28,67h2v3h-2zM25,65h1v2h-1zM34,58h1v3h-1zM40,65h1v2h-1zM49,60h1v3h-1zM51,66h1v1h-1zM52,59h2v3h-2zM55,68h1v2h-1zM60,65h2v2h-2zM66,61h1v1h-1zM67,69h2v1h-2zM72,74h1v2h-1zM83,63h2v3h-2zM87,68h1v3h-1zM84,57h2v2h-2zM91,65h1v1h-1zM119,66h2v2h-2zM115,58h1v2h-1zM137,60h1v1h-1zM138,61h1v3h-1zM155,58h1v3h-1zM165,60h1v2h-1zM4,71h2v3h-2zM4,75h1v2h-1zM-2,64h1v1h-1zM-4,66h1v2h-1zM14,80h2v1h-2zM18,71h1v1h-1zM11,72h2v1h-2zM13,76h2v1h-2zM10,75h2v3h-2zM13,80h1v3h-1zM28,76h1v2h-1zM22,77h1v3h-1zM37,76h1v1h-1zM40,74h1v1h-1zM42,84h1v2h-1zM52,73h2v1h-2zM54,85h2v1h-2zM59,80h2v2h-2zM52,75h2v1h-2zM54,76h1v3h-1zM97,78h2v2h-2zM102,79h2v1h-2zM101,86h1v1h-1zM111,74h1v3h-1zM111,84h2v1h-2zM126,82h2v3h-2zM139,73h2v3h-2zM148,82h2v3h-2zM164,76h1v1h-1zM156,71h1v2h-1zM185,77h2v1h-2zM188,72h1v2h-1zM11,88h2v3h-2zM-5,83h2v3h-2zM2,82h1v2h-1zM7,81h2v1h-2zM11,84h2v2h-2zM4,85h2v1h-2zM5,81h1v2h-1zM66,88h1v1h-1zM61,83h2v2h-2zM67,78h2v1h-2zM78,88h1v1h-1zM76,83h1v2h-1zM85,74h2v2h-2zM23,84h1v1h-1zM18,85h1v1h-1zM15,86h2v3h-2zM15,87h2v2h-2zM29,93h1v3h-1zM29,97h1v3h-1zM37,90h2v2h-2zM33,87h1v1h-1zM50,100h1v2h-1zM52,96h1v1h-1zM51,96h2v3h-2zM51,92h1v1h-1zM49,92h1v1h-1zM63,100h2v1h-2zM64,101h1v1h-1zM61,96h1v3h-1zM55,95h1v2h-1zM69,94h1v1h-1zM72,89h1v1h-1zM74,89h1v1h-1zM76,90h1v1h-1zM86,98h1v3h-1zM84,97h2v3h-2zM88,92h1v3h-1zM100,89h2v2h-2zM91,100h2v3h-2zM96,88h1v1h-1zM112,91h2v3h-2zM103,92h2v1h-2zM117,96h2v2h-2zM123,97h1v1h-1zM116,91h2v1h-2zM129,88h2v2h-2zM149,92h2v1h-2zM165,91h1v3h-1zM175,88h2v2h-2zM177,86h2v1h-2zM8,99h2v2h-2zM-4,99h2v1h-2zM13,95h1v3h-1zM17,104h1v2h-1zM23,97h2v2h-2zM21,98h2v2h-2zM19,99h1v3h-1zM37,109h1v3h-1zM34,111h2v2h-2zM36,106h1v1h-1zM33,110h2v1h-2zM50,111h2v1h-2zM53,112h2v1h-2zM55,115h1v3h-1zM53,112h2v2h-2zM130,108h1v3h-1zM130,112h1v1h-1zM133,104h1v1h-1zM140,107h1v3h-1zM153,102h1v1h-1zM162,99h2v3h-2zM171,110h2v2h-2zM175,108h1v3h-1zM178,109h2v2h-2zM183,108h1v1h-1zM-1,107h1v1h-1zM-5,105h1v1h-1zM0,108h1v1h-1zM1,107h1v1h-1zM-2,105h1v1h-1zM-6,108h2v3h-2zM-5,104h2v2h-2zM-3,120h1v1h-1zM-5,121h1v2h-1zM3,109h2v2h-2zM16,121h2v2h-2zM30,115h2v1h-2zM25,111h2v3h-2zM21,119h1v1h-1zM22,117h1v2h-1zM27,114h1v3h-1zM26,112h1v1h-1zM19,120h2v1h-2zM21,112h1v1h-1zM61,107h2v2h-2zM60,112h1v3h-1zM78,107h1v1h-1zM79,107h2v3h-2zM71,113h2v2h-2zM71,116h2v1h-2zM84,110h2v3h-2zM90,108h1v2h-1zM87,104h2v2h-2zM90,116h1v2h-1zM103,110h2v2h-2zM101,112h1v1h-1zM117,107h1v1h-1zM165,123h1v1h-1zM165,115h2v1h-2zM185,113h1v3h-1zM178,114h1v1h-1zM31,121h1v1h-1zM37,125h2v3h-2zM39,118h1v1h-1zM50,123h2v2h-2zM49,115h1v3h-1zM44,129h1v2h-1zM53,124h2v2h-2zM59,126h2v2h-2zM56,124h1v1h-1zM57,129h1v2h-1zM56,117h1v3h-1zM66,129h1v1h-1zM71,129h1v3h-1zM71,119h2v1h-2zM67,119h1v3h-1zM88,129h2v2h-2zM94,132h1v1h-1zM101,130h2v2h-2zM98,129h1v2h-1zM126,118h1v1h-1zM130,115h2v1h-2zM136,117h1v3h-1zM148,124h2v3h-2zM147,125h2v3h-2zM151,124h2v2h-2zM161,117h1v1h-1zM2,135h1v1h-1zM-1,133h1v3h-1zM3,123h2v3h-2zM12,137h1v3h-1zM25,142h2v1h-2zM30,137h2v2h-2zM28,140h1v2h-1zM23,131h1v1h-1zM27,141h2v3h-2zM41,134h2v2h-2zM38,131h2v2h-2zM42,135h1v1h-1zM49,142h1v1h-1zM53,132h2v3h-2zM46,142h2v2h-2zM46,142h1v1h-1zM58,140h1v1h-1zM60,139h2v1h-2zM65,136h2v3h-2zM58,143h1v1h-1zM69,143h1v1h-1zM68,137h2v3h-2zM70,140h2v2h-2zM68,133h1v2h-1zM110,130h2v2h-2zM119,133h2v2h-2zM130,136h2v3h-2zM129,137h2v1h-2zM142,143h2v3h-2zM155,130h2v3h-2zM166,135h1v2h-1zM11,151h2v1h-2zM7,141h2v2h-2zM8,145h1v1h-1zM19,145h1v1h-1zM22,145h2v3h-2zM15,148h1v1h-1zM21,153h1v1h-1zM21,144h1v2h-1zM18,154h1v1h-1zM82,137h2v1h-2zM87,145h1v2h-1zM87,137h2v1h-2zM93,137h1v1h-1zM94,136h2v1h-2zM102,143h1v1h-1zM110,149h2v2h-2zM103,143h2v2h-2zM109,148h1v3h-1zM113,147h2v3h-2zM121,147h2v2h-2zM176,144h1v1h-1zM29,146h1v1h-1zM27,152h1v3h-1zM43,145h2v2h-2zM47,150h1v1h-1zM50,146h2v2h-2zM50,155h2v1h-2zM56,157h1v2h-1zM52,148h1v2h-1zM64,153h1v3h-1zM68,148h1v3h-1zM63,157h2v3h-2zM67,154h1v2h-1zM66,145h1v3h-1zM71,148h2v3h-2zM77,153h2v1h-2zM92,153h1v1h-1zM80,159h1v3h-1zM92,153h1v2h-1zM123,162h1v3h-1zM131,150h1v3h-1zM145,159h2v1h-2zM140,149h2v2h-2zM149,150h1v1h-1zM154,157h1v1h-1zM154,144h2v3h-2zM167,153h1v3h-1zM-2,161h2v1h-2zM0,154h2v3h-2zM-1,158h1v1h-1zM11,154h1v2h-1zM6,162h1v3h-1zM15,165h1v1h-1zM12,156h1v1h-1zM14,155h2v3h-2zM10,154h1v2h-1zM6,162h1v1h-1zM10,156h2v3h-2zM11,161h1v3h-1zM20,164h1v2h-1zM27,158h1v1h-1zM22,156h1v2h-1zM23,169h2v2h-2zM23,161h1v3h-1zM27,160h2v2h-2zM23,169h1v1h-1zM32,170h2v2h-2zM33,163h1v3h-1zM33,162h1v1h-1zM31,162h2v1h-2zM30,167h2v3h-2zM43,170h1v2h-1zM52,160h1v1h-1zM58,171h1v1h-1zM55,167h2v2h-2zM77,166h1v1h-1zM78,163h1v2h-1zM69,164h1v3h-1zM96,163h1v1h-1zM93,157h2v3h-2zM102,162h2v2h-2zM107,164h1v1h-1zM188,158h1v1h-1zM-1,176h2v2h-2zM-5,171h1v1h-1zM18,175h1v2h-1zM12,177h1v2h-1zM16,188h2v2h-2zM24,177h1v2h-1zM24,172h1v1h-1zM23,186h1v1h-1zM33,177h1v2h-1zM35,187h2v1h-2zM40,179h1v3h-1zM37,189h2v1h-2zM44,184h1v2h-1zM59,180h1v2h-1zM56,178h2v2h-2zM54,183h1v1h-1zM49,182h2v3h-2zM62,179h1v1h-1zM78,188h2v2h-2zM67,173h2v3h-2zM87,189h2v1h-2zM89,170h1v1h-1zM83,181h1v1h-1zM98,171h1v1h-1zM93,183h2v1h-2zM110,188h2v1h-2zM106,185h1v1h-1zM128,179h1v1h-1zM121,179h1v1h-1zM121,181h2v2h-2zM121,167h2v3h-2zM131,174h1v3h-1zM121,170h1v2h-1zM134,167h1v2h-1zM136,167h2v3h-2zM136,173h2v2h-2zM158,173h1v3h-1zM162,171h2v1h-2zM140,182h1v2h-1zM153,180h2v3h-2zM143,186h2v2h-2zM155,188h2v1h-2zM161,180h2v3h-2zM160,187h2v3h-2zM181,187h2v3h-2zM59,-3h1v1h-1zM40,-6h2v3h-2zM58,-1h1v1h-1zM48,0h1v1h-1zM51,-6h2v2h-2zM47,-3h1v1h-1z" fill="#000" opacity="1.0"/></g>
<filter id="thA" x="0" y="0" width="100%" height="100%" color-interpolation-filters="sRGB"><feComponentTransfer><feFuncR type="linear" slope="255" intercept="-121.5"/><feFuncG type="linear" slope="255" intercept="-121.5"/><feFuncB type="linear" slope="255" intercept="-121.5"/></feComponentTransfer></filter>
<filter id="thB" x="0" y="0" width="100%" height="100%" color-interpolation-filters="sRGB"><feComponentTransfer><feFuncR type="linear" slope="255" intercept="-128.3"/><feFuncG type="linear" slope="255" intercept="-128.3"/><feFuncB type="linear" slope="255" intercept="-128.3"/></feComponentTransfer></filter>
<g id="axes"><rect x="232.2" y="212.4" width="164.10" height="155.90" fill="none" stroke="#9a9a9a" stroke-width="1"/><path d="M262.38,368.3v-1.8M262.38,212.4v1.8" stroke="#777" stroke-width="0.8"/><text x="262.38" y="383" text-anchor="middle">50</text><path d="M294.85,368.3v-1.8M294.85,212.4v1.8" stroke="#777" stroke-width="0.8"/><text x="294.85" y="383" text-anchor="middle">100</text><path d="M327.32,368.3v-1.8M327.32,212.4v1.8" stroke="#777" stroke-width="0.8"/><text x="327.32" y="383" text-anchor="middle">150</text><path d="M359.80,368.3v-1.8M359.80,212.4v1.8" stroke="#777" stroke-width="0.8"/><text x="359.80" y="383" text-anchor="middle">200</text><path d="M392.27,368.3v-1.8M392.27,212.4v1.8" stroke="#777" stroke-width="0.8"/><text x="392.27" y="383" text-anchor="middle">250</text><path d="M232.2,368.30h1.8M396.3,368.30h-1.8" stroke="#777" stroke-width="0.8"/><text x="227.9" y="372.50" text-anchor="end">0</text><path d="M232.2,329.30h1.8M396.3,329.30h-1.8" stroke="#777" stroke-width="0.8"/><text x="227.9" y="333.50" text-anchor="end">0.01</text><path d="M232.2,290.30h1.8M396.3,290.30h-1.8" stroke="#777" stroke-width="0.8"/><text x="227.9" y="294.50" text-anchor="end">0.02</text><path d="M232.2,251.30h1.8M396.3,251.30h-1.8" stroke="#777" stroke-width="0.8"/><text x="227.9" y="255.50" text-anchor="end">0.03</text><path d="M232.2,212.30h1.8M396.3,212.30h-1.8" stroke="#777" stroke-width="0.8"/><text x="227.9" y="216.50" text-anchor="end">0.04</text><line x1="232.39999999999998" y1="306.4" x2="232.39999999999998" y2="368.3" stroke="#a9b9ea" stroke-width="1.2"/></g>
<polyline id="curve" clip-path="url(#cax)" points="232.5,368.0 233.1,368.0 233.8,368.0 234.4,368.0 235.1,368.0 235.7,368.0 236.4,367.8 237.0,367.3 237.7,366.8 238.3,366.3 239.0,365.8 239.6,365.3 240.3,364.5 240.9,363.6 241.6,364.2 242.2,362.4 242.9,362.9 243.5,362.2 244.2,361.4 244.8,362.3 245.5,361.1 246.1,361.8 246.8,360.9 247.4,360.8 248.1,361.4 248.7,362.1 249.4,360.5 250.0,360.5 250.7,361.3 251.3,361.9 252.0,360.9 252.6,360.4 253.3,361.6 253.9,359.5 254.6,361.3 255.2,360.0 255.9,359.7 256.5,359.6 257.2,360.0 257.8,361.1 258.5,359.7 259.1,360.5 259.8,360.6 260.4,360.0 261.1,360.4 261.7,359.3 262.4,359.2 263.0,359.5 263.7,360.6 264.3,360.0 265.0,359.7 265.6,359.9 266.3,359.2 266.9,358.5 267.6,359.1 268.2,358.5 268.9,357.6 269.5,358.5 270.2,358.5 270.8,359.3 271.5,359.1 272.1,358.3 272.8,359.9 273.4,358.1 274.1,358.9 274.7,359.5 275.4,357.7 276.0,358.0 276.7,356.6 277.3,357.5 278.0,357.3 278.6,356.7 279.3,357.4 279.9,356.1 280.6,357.0 281.2,356.8 281.9,356.8 282.5,356.5 283.2,357.4 283.8,357.7 284.5,356.6 285.1,357.1 285.8,355.8 286.4,357.3 287.1,357.2 287.7,358.0 288.4,357.6 289.0,356.5 289.7,356.7 290.3,357.4 291.0,356.0 291.6,357.0 292.3,356.4 292.9,356.3 293.6,356.2 294.2,357.8 294.9,356.5 295.5,356.8 296.1,357.1 296.8,358.2 297.4,356.5 298.1,357.4 298.7,357.6 299.4,358.4 300.0,358.3 300.7,358.4 301.3,357.2 302.0,357.5 302.6,357.4 303.3,358.6 303.9,358.8 304.6,357.1 305.2,357.2 305.9,357.4 306.5,357.4 307.2,358.0 307.8,358.3 308.5,357.6 309.1,357.0 309.8,357.8 310.4,357.7 311.1,358.1 311.7,358.9 312.4,358.2 313.0,357.8 313.7,358.0 314.3,358.1 315.0,356.7 315.6,358.5 316.3,358.2 316.9,358.3 317.6,358.1 318.2,357.2 318.9,357.1 319.5,356.4 320.2,357.5 320.8,356.1 321.5,355.9 322.1,356.1 322.8,355.8 323.4,356.1 324.1,355.3 324.7,355.0 325.4,355.2 326.0,354.9 326.7,355.4 327.3,354.5 328.0,356.2 328.6,355.5 329.3,354.3 329.9,354.6 330.6,354.8 331.2,354.8 331.9,354.3 332.5,355.9 333.2,356.2 333.8,355.0 334.5,355.1 335.1,354.2 335.8,354.2 336.4,354.8 337.1,354.6 337.7,355.8 338.4,354.0 339.0,353.4 339.7,355.2 340.3,353.9 341.0,352.8 341.6,353.4 342.3,352.0 342.9,352.8 343.6,353.5 344.2,352.9 344.9,352.3 345.5,351.0 346.2,351.0 346.8,350.2 347.5,351.2 348.1,350.4 348.8,350.6 349.4,349.3 350.1,348.7 350.7,349.7 351.4,349.7 352.0,349.1 352.7,348.7 353.3,348.0 354.0,346.9 354.6,344.9 355.3,344.6 355.9,343.3 356.6,341.7 357.2,340.8 357.9,340.4 358.5,339.4 359.2,339.3 359.8,338.4 360.4,335.8 361.1,335.4 361.7,334.0 362.4,332.5 363.0,329.7 363.7,327.9 364.3,326.4 365.0,325.0 365.6,323.7 366.6,303.4 368.4,291.4 369.6,307.7 370.3,313.6 372.2,307.7 373.3,291.7 373.6,180.0 373.9,180.0 375.0,280.0 376.3,320.0 376.9,339.6 379.4,349.7 381.9,364.3 383.2,367.5 396.3,368.0" fill="none" stroke="#4f6dcc" stroke-width="0.72" stroke-linejoin="round"/>
</defs>
<text x="97.3" y="101.7" text-anchor="middle">Original</text>
<svg x="6.0" y="112.0" width="184" height="184" viewBox="-0.2 -0.2 184 184" overflow="hidden"><use href="#oc" filter="url(#osoft)"/></svg><rect x="6.5" y="112.5" width="184" height="183.5" fill="none" stroke="#111" stroke-width="1"/>
<svg x="211.0" y="9.0" width="184" height="184" viewBox="-0.8 -0.6 184 184" overflow="hidden"><g filter="url(#thA)"><use href="#oc" filter="url(#osoft)"/></g></svg><rect x="211.5" y="9.5" width="184" height="184" fill="none" stroke="#000" stroke-width="1"/>
<svg x="417.0" y="9.0" width="184" height="184" viewBox="-0.8 -0.6 184 184" overflow="hidden"><g filter="url(#thA)"><use href="#oc" filter="url(#osoft)"/></g></svg><rect x="417.5" y="9.5" width="184" height="184" fill="none" stroke="#000" stroke-width="1"/>
<svg x="622.0" y="9.0" width="184" height="184" viewBox="-0.8 -0.6 184 184" overflow="hidden"><g filter="url(#thB)"><use href="#oc" filter="url(#osoft)"/></g></svg><rect x="622.5" y="9.5" width="184" height="184" fill="none" stroke="#000" stroke-width="1"/>
<rect x="827.5" y="9.5" width="184" height="184" fill="#000" stroke="#000" stroke-width="1"/>
<g transform="translate(0.00,0)">
<line x1="309.01" y1="212.4" x2="309.01" y2="368.3" stroke="#f9d0d4" stroke-width="1.7"/>
<use href="#axes"/>
<polyline clip-path="url(#cax)" points="232.5,368.0 233.1,368.0 233.8,368.0 234.4,368.0 235.1,368.0 235.7,368.0 236.4,367.8 237.0,367.3 237.7,366.8 238.3,366.3 239.0,365.8 239.6,365.3 240.3,364.5 240.9,363.6 241.6,364.2 242.2,362.4 242.9,362.9 243.5,362.2 244.2,361.4 244.8,362.3 245.5,361.1 246.1,361.8 246.8,360.9 247.4,360.8 248.1,361.4 248.7,362.1 249.4,360.5 250.0,360.5 250.7,361.3 251.3,361.9 252.0,360.9 252.6,360.4 253.3,361.6 253.9,359.5 254.6,361.3 255.2,360.0 255.9,359.7 256.5,359.6 257.2,360.0 257.8,361.1 258.5,359.7 259.1,360.5 259.8,360.6 260.4,360.0 261.1,360.4 261.7,359.3 262.4,359.2 263.0,359.5 263.7,360.6 264.3,360.0 265.0,359.7 265.6,359.9 266.3,359.2 266.9,358.5 267.6,359.1 268.2,358.5 268.9,357.6 269.5,358.5 270.2,358.5 270.8,359.3 271.5,359.1 272.1,358.3 272.8,359.9 273.4,358.1 274.1,358.9 274.7,359.5 275.4,357.7 276.0,358.0 276.7,356.6 277.3,357.5 278.0,357.3 278.6,356.7 279.3,357.4 279.9,356.1 280.6,357.0 281.2,356.8 281.9,356.8 282.5,356.5 283.2,357.4 283.8,357.7 284.5,356.6 285.1,357.1 285.8,355.8 286.4,357.3 287.1,357.2 287.7,358.0 288.4,357.6 289.0,356.5 289.7,356.7 290.3,357.4 291.0,356.0 291.6,357.0 292.3,356.4 292.9,356.3 293.6,356.2 294.2,357.8 294.9,356.5 295.5,356.8 296.1,357.1 296.8,358.2 297.4,356.5 298.1,357.4 298.7,357.6 299.4,358.4 300.0,358.3 300.7,358.4 301.3,357.2 302.0,357.5 302.6,357.4 303.3,358.6 303.9,358.8 304.6,357.1 305.2,357.2 305.9,357.4 306.5,357.4 307.2,358.0 307.8,358.3 308.5,357.6 309.1,357.0 309.8,357.8 310.4,357.7 311.1,358.1 311.7,358.9 312.4,358.2 313.0,357.8 313.7,358.0 314.3,358.1 315.0,356.7 315.6,358.5 316.3,358.2 316.9,358.3 317.6,358.1 318.2,357.2 318.9,357.1 319.5,356.4 320.2,357.5 320.8,356.1 321.5,355.9 322.1,356.1 322.8,355.8 323.4,356.1 324.1,355.3 324.7,355.0 325.4,355.2 326.0,354.9 326.7,355.4 327.3,354.5 328.0,356.2 328.6,355.5 329.3,354.3 329.9,354.6 330.6,354.8 331.2,354.8 331.9,354.3 332.5,355.9 333.2,356.2 333.8,355.0 334.5,355.1 335.1,354.2 335.8,354.2 336.4,354.8 337.1,354.6 337.7,355.8 338.4,354.0 339.0,353.4 339.7,355.2 340.3,353.9 341.0,352.8 341.6,353.4 342.3,352.0 342.9,352.8 343.6,353.5 344.2,352.9 344.9,352.3 345.5,351.0 346.2,351.0 346.8,350.2 347.5,351.2 348.1,350.4 348.8,350.6 349.4,349.3 350.1,348.7 350.7,349.7 351.4,349.7 352.0,349.1 352.7,348.7 353.3,348.0 354.0,346.9 354.6,344.9 355.3,344.6 355.9,343.3 356.6,341.7 357.2,340.8 357.9,340.4 358.5,339.4 359.2,339.3 359.8,338.4 360.4,335.8 361.1,335.4 361.7,334.0 362.4,332.5 363.0,329.7 363.7,327.9 364.3,326.4 365.0,325.0 365.6,323.7 366.6,303.4 368.4,291.4 369.6,307.7 370.3,313.6 372.2,307.7 373.3,291.7 373.6,180.0 373.9,180.0 375.0,280.0 376.3,320.0 376.9,339.6 379.4,349.7 381.9,364.3 383.2,367.5 396.3,368.0" fill="none" stroke="#4f6dcc" stroke-width="0.72" stroke-linejoin="round"/>
<text x="313.25" y="401" text-anchor="middle">q = 0.2</text>
</g>
<g transform="translate(205.25,0)">
<line x1="309.01" y1="212.4" x2="309.01" y2="368.3" stroke="#f9d0d4" stroke-width="1.7"/>
<use href="#axes"/>
<use href="#curve"/>
<text x="313.25" y="401" text-anchor="middle">q = 0.5</text>
</g>
<g transform="translate(410.50,0)">
<line x1="313.49" y1="212.4" x2="313.49" y2="368.3" stroke="#f9d0d4" stroke-width="1.7"/>
<use href="#axes"/>
<use href="#curve"/>
<text x="313.25" y="401" text-anchor="middle">q = 1</text>
</g>
<g transform="translate(615.75,0)">
<line x1="393.31" y1="212.4" x2="393.31" y2="368.3" stroke="#f4a8b0" stroke-width="1.7"/>
<use href="#axes"/>
<use href="#curve"/>
<text x="313.25" y="401" text-anchor="middle">q = 1.5</text>
</g>
</svg></body></html>
